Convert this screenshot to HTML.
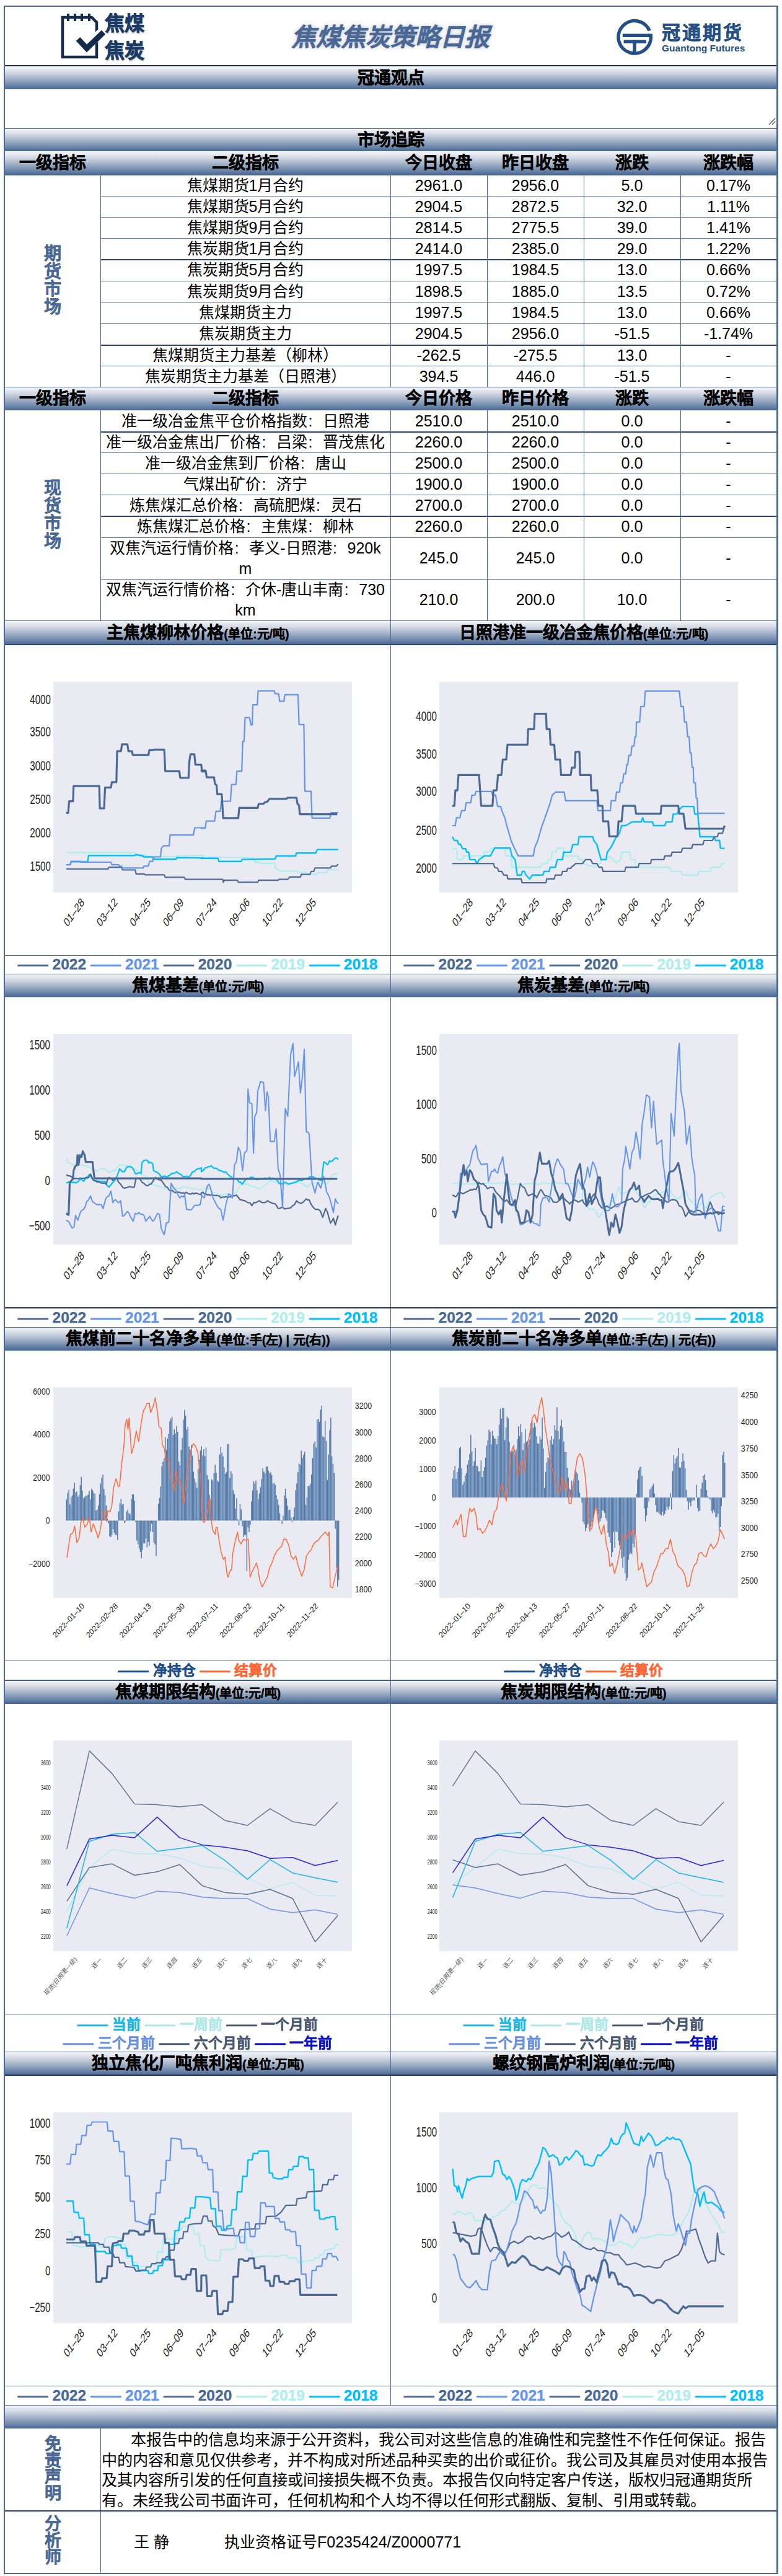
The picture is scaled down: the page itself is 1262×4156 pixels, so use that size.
<!DOCTYPE html>
<html lang="zh-CN"><head><meta charset="utf-8"><title>焦煤焦炭策略日报</title>
<style>
html,body{margin:0;padding:0;background:#fff;}
body{width:1262px;height:4156px;position:relative;overflow:hidden;font-family:'Liberation Sans',sans-serif;color:#000;}
div{box-sizing:border-box;}
.c{text-align:center;white-space:nowrap;}
</style></head><body>
<svg style="position:absolute;left:90px;top:15px" width="90" height="85" viewBox="90 15 90 85">
<path d="M101 28 H148 L156 36 V92 H101 Z" fill="none" stroke="#132a4a" stroke-width="4.5"/>
<g stroke="#132a4a" stroke-width="4"><line x1="110" y1="22" x2="110" y2="34"/><line x1="121" y1="22" x2="121" y2="34"/><line x1="132" y1="22" x2="132" y2="34"/><line x1="144" y1="22" x2="144" y2="34"/></g>
<path d="M126 60 L140 74 L166 50" fill="none" stroke="#fff" stroke-width="14"/>
<path d="M126 63 L140 78 L167 52" fill="none" stroke="#132a4a" stroke-width="9"/>
</svg><div style="position:absolute;left:169px;top:20px;width:80px;height:36px;line-height:36px;font-weight:bold;-webkit-text-stroke:0.9px currentColor;font-size:32px;color:#1b3a66;text-shadow:1px 2px 2px rgba(0,0,0,0.3);letter-spacing:0px;">焦煤</div><div style="position:absolute;left:169px;top:64px;width:80px;height:36px;line-height:36px;font-weight:bold;-webkit-text-stroke:0.9px currentColor;font-size:32px;color:#1b3a66;text-shadow:1px 2px 2px rgba(0,0,0,0.3);letter-spacing:0px;">焦炭</div><div style="position:absolute;left:330px;top:36px;width:600px;height:48px;line-height:48px;text-align:center;font-weight:bold;-webkit-text-stroke:0.35px currentColor;font-style:italic;font-size:40px;color:#4a6896;text-shadow:0 0 6px rgba(120,130,150,0.55);">焦煤焦炭策略日报</div><svg style="position:absolute;left:990px;top:25px" width="70" height="70" viewBox="990 25 70 70">
<path d="M1048.3 49.5 A26.25 26.25 0 1 0 1050.3 57.3" fill="none" stroke="#234f86" stroke-width="5.5"/>
<rect x="1004.8" y="54.5" width="48" height="5.5" fill="#234f86"/>
<rect x="1006.6" y="64.4" width="36.2" height="5.4" fill="#234f86"/>
<rect x="1021.3" y="69" width="5.4" height="16" fill="#234f86"/>
</svg><div style="position:absolute;left:1068px;top:36px;width:150px;height:34px;line-height:34px;font-weight:bold;-webkit-text-stroke:0.35px currentColor;font-size:30px;color:#234f86;letter-spacing:3px;">冠通期货</div><div style="position:absolute;left:1068px;top:68px;width:140px;height:20px;line-height:20px;font-weight:bold;font-size:15.5px;color:#234f86;">Guantong Futures</div><div style="position:absolute;left:8px;top:105px;width:1245px;height:2px;background:#1e3352"></div><div style="position:absolute;left:8px;top:108px;width:1245px;height:36px;background:linear-gradient(to bottom,#f3f4f7 0%,#d3d9e3 25%,#a7b5ca 50%,#7890b0 75%,#4a6896 100%)"></div><div style="position:absolute;left:8px;top:108px;width:1245px;height:36px;line-height:36px;text-align:center;font-weight:bold;-webkit-text-stroke:0.35px currentColor;font-size:27px;">冠通观点</div><svg style="position:absolute;left:1238px;top:188px" width="16" height="16"><g stroke="#555" stroke-width="1.3"><line x1="3" y1="13" x2="13" y2="3"/><line x1="8" y1="13" x2="13" y2="8"/></g></svg><div style="position:absolute;left:8px;top:207px;width:1245px;height:1px;background:#4a6a9a"></div><div style="position:absolute;left:8px;top:208px;width:1245px;height:36px;background:linear-gradient(to bottom,#f3f4f7 0%,#d3d9e3 25%,#a7b5ca 50%,#7890b0 75%,#4a6896 100%)"></div><div style="position:absolute;left:8px;top:208px;width:1245px;height:36px;line-height:36px;text-align:center;font-weight:bold;-webkit-text-stroke:0.35px currentColor;font-size:27px;">市场追踪</div><div style="position:absolute;left:8px;top:245px;width:1245px;height:37px;background:linear-gradient(to bottom,#f3f4f7 0%,#d3d9e3 25%,#a7b5ca 50%,#7890b0 75%,#4a6896 100%)"></div><div style="position:absolute;left:8px;top:245px;width:154px;height:37px;line-height:37px;text-align:center;font-weight:bold;-webkit-text-stroke:0.35px currentColor;font-size:27px;white-space:nowrap;">一级指标</div><div style="position:absolute;left:162px;top:245px;width:468px;height:37px;line-height:37px;text-align:center;font-weight:bold;-webkit-text-stroke:0.35px currentColor;font-size:27px;white-space:nowrap;">二级指标</div><div style="position:absolute;left:630px;top:245px;width:156px;height:37px;line-height:37px;text-align:center;font-weight:bold;-webkit-text-stroke:0.35px currentColor;font-size:27px;white-space:nowrap;">今日收盘</div><div style="position:absolute;left:786px;top:245px;width:156px;height:37px;line-height:37px;text-align:center;font-weight:bold;-webkit-text-stroke:0.35px currentColor;font-size:27px;white-space:nowrap;">昨日收盘</div><div style="position:absolute;left:942px;top:245px;width:156px;height:37px;line-height:37px;text-align:center;font-weight:bold;-webkit-text-stroke:0.35px currentColor;font-size:27px;white-space:nowrap;">涨跌</div><div style="position:absolute;left:1098px;top:245px;width:155px;height:37px;line-height:37px;text-align:center;font-weight:bold;-webkit-text-stroke:0.35px currentColor;font-size:27px;white-space:nowrap;">涨跌幅</div><div style="position:absolute;left:162px;top:282px;width:468px;height:34px;line-height:34px;text-align:center;font-size:25px;white-space:nowrap;">焦煤期货1月合约</div><div style="position:absolute;left:630px;top:282px;width:156px;height:34px;line-height:34px;text-align:center;font-size:25px;white-space:nowrap;">2961.0</div><div style="position:absolute;left:786px;top:282px;width:156px;height:34px;line-height:34px;text-align:center;font-size:25px;white-space:nowrap;">2956.0</div><div style="position:absolute;left:942px;top:282px;width:156px;height:34px;line-height:34px;text-align:center;font-size:25px;white-space:nowrap;">5.0</div><div style="position:absolute;left:1098px;top:282px;width:155px;height:34px;line-height:34px;text-align:center;font-size:25px;white-space:nowrap;">0.17%</div><div style="position:absolute;left:162px;top:316px;width:468px;height:34px;line-height:34px;text-align:center;font-size:25px;white-space:nowrap;">焦煤期货5月合约</div><div style="position:absolute;left:630px;top:316px;width:156px;height:34px;line-height:34px;text-align:center;font-size:25px;white-space:nowrap;">2904.5</div><div style="position:absolute;left:786px;top:316px;width:156px;height:34px;line-height:34px;text-align:center;font-size:25px;white-space:nowrap;">2872.5</div><div style="position:absolute;left:942px;top:316px;width:156px;height:34px;line-height:34px;text-align:center;font-size:25px;white-space:nowrap;">32.0</div><div style="position:absolute;left:1098px;top:316px;width:155px;height:34px;line-height:34px;text-align:center;font-size:25px;white-space:nowrap;">1.11%</div><div style="position:absolute;left:162px;top:350px;width:468px;height:34px;line-height:34px;text-align:center;font-size:25px;white-space:nowrap;">焦煤期货9月合约</div><div style="position:absolute;left:630px;top:350px;width:156px;height:34px;line-height:34px;text-align:center;font-size:25px;white-space:nowrap;">2814.5</div><div style="position:absolute;left:786px;top:350px;width:156px;height:34px;line-height:34px;text-align:center;font-size:25px;white-space:nowrap;">2775.5</div><div style="position:absolute;left:942px;top:350px;width:156px;height:34px;line-height:34px;text-align:center;font-size:25px;white-space:nowrap;">39.0</div><div style="position:absolute;left:1098px;top:350px;width:155px;height:34px;line-height:34px;text-align:center;font-size:25px;white-space:nowrap;">1.41%</div><div style="position:absolute;left:162px;top:384px;width:468px;height:34px;line-height:34px;text-align:center;font-size:25px;white-space:nowrap;">焦炭期货1月合约</div><div style="position:absolute;left:630px;top:384px;width:156px;height:34px;line-height:34px;text-align:center;font-size:25px;white-space:nowrap;">2414.0</div><div style="position:absolute;left:786px;top:384px;width:156px;height:34px;line-height:34px;text-align:center;font-size:25px;white-space:nowrap;">2385.0</div><div style="position:absolute;left:942px;top:384px;width:156px;height:34px;line-height:34px;text-align:center;font-size:25px;white-space:nowrap;">29.0</div><div style="position:absolute;left:1098px;top:384px;width:155px;height:34px;line-height:34px;text-align:center;font-size:25px;white-space:nowrap;">1.22%</div><div style="position:absolute;left:162px;top:418px;width:468px;height:35px;line-height:35px;text-align:center;font-size:25px;white-space:nowrap;">焦炭期货5月合约</div><div style="position:absolute;left:630px;top:418px;width:156px;height:35px;line-height:35px;text-align:center;font-size:25px;white-space:nowrap;">1997.5</div><div style="position:absolute;left:786px;top:418px;width:156px;height:35px;line-height:35px;text-align:center;font-size:25px;white-space:nowrap;">1984.5</div><div style="position:absolute;left:942px;top:418px;width:156px;height:35px;line-height:35px;text-align:center;font-size:25px;white-space:nowrap;">13.0</div><div style="position:absolute;left:1098px;top:418px;width:155px;height:35px;line-height:35px;text-align:center;font-size:25px;white-space:nowrap;">0.66%</div><div style="position:absolute;left:162px;top:453px;width:468px;height:34px;line-height:34px;text-align:center;font-size:25px;white-space:nowrap;">焦炭期货9月合约</div><div style="position:absolute;left:630px;top:453px;width:156px;height:34px;line-height:34px;text-align:center;font-size:25px;white-space:nowrap;">1898.5</div><div style="position:absolute;left:786px;top:453px;width:156px;height:34px;line-height:34px;text-align:center;font-size:25px;white-space:nowrap;">1885.0</div><div style="position:absolute;left:942px;top:453px;width:156px;height:34px;line-height:34px;text-align:center;font-size:25px;white-space:nowrap;">13.5</div><div style="position:absolute;left:1098px;top:453px;width:155px;height:34px;line-height:34px;text-align:center;font-size:25px;white-space:nowrap;">0.72%</div><div style="position:absolute;left:162px;top:487px;width:468px;height:34px;line-height:34px;text-align:center;font-size:25px;white-space:nowrap;">焦煤期货主力</div><div style="position:absolute;left:630px;top:487px;width:156px;height:34px;line-height:34px;text-align:center;font-size:25px;white-space:nowrap;">1997.5</div><div style="position:absolute;left:786px;top:487px;width:156px;height:34px;line-height:34px;text-align:center;font-size:25px;white-space:nowrap;">1984.5</div><div style="position:absolute;left:942px;top:487px;width:156px;height:34px;line-height:34px;text-align:center;font-size:25px;white-space:nowrap;">13.0</div><div style="position:absolute;left:1098px;top:487px;width:155px;height:34px;line-height:34px;text-align:center;font-size:25px;white-space:nowrap;">0.66%</div><div style="position:absolute;left:162px;top:521px;width:468px;height:35px;line-height:35px;text-align:center;font-size:25px;white-space:nowrap;">焦炭期货主力</div><div style="position:absolute;left:630px;top:521px;width:156px;height:35px;line-height:35px;text-align:center;font-size:25px;white-space:nowrap;">2904.5</div><div style="position:absolute;left:786px;top:521px;width:156px;height:35px;line-height:35px;text-align:center;font-size:25px;white-space:nowrap;">2956.0</div><div style="position:absolute;left:942px;top:521px;width:156px;height:35px;line-height:35px;text-align:center;font-size:25px;white-space:nowrap;">-51.5</div><div style="position:absolute;left:1098px;top:521px;width:155px;height:35px;line-height:35px;text-align:center;font-size:25px;white-space:nowrap;">-1.74%</div><div style="position:absolute;left:162px;top:556px;width:468px;height:34px;line-height:34px;text-align:center;font-size:25px;white-space:nowrap;">焦煤期货主力基差（柳林）</div><div style="position:absolute;left:630px;top:556px;width:156px;height:34px;line-height:34px;text-align:center;font-size:25px;white-space:nowrap;">-262.5</div><div style="position:absolute;left:786px;top:556px;width:156px;height:34px;line-height:34px;text-align:center;font-size:25px;white-space:nowrap;">-275.5</div><div style="position:absolute;left:942px;top:556px;width:156px;height:34px;line-height:34px;text-align:center;font-size:25px;white-space:nowrap;">13.0</div><div style="position:absolute;left:1098px;top:556px;width:155px;height:34px;line-height:34px;text-align:center;font-size:25px;white-space:nowrap;">-</div><div style="position:absolute;left:162px;top:590px;width:468px;height:34px;line-height:34px;text-align:center;font-size:25px;white-space:nowrap;">焦炭期货主力基差（日照港）</div><div style="position:absolute;left:630px;top:590px;width:156px;height:34px;line-height:34px;text-align:center;font-size:25px;white-space:nowrap;">394.5</div><div style="position:absolute;left:786px;top:590px;width:156px;height:34px;line-height:34px;text-align:center;font-size:25px;white-space:nowrap;">446.0</div><div style="position:absolute;left:942px;top:590px;width:156px;height:34px;line-height:34px;text-align:center;font-size:25px;white-space:nowrap;">-51.5</div><div style="position:absolute;left:1098px;top:590px;width:155px;height:34px;line-height:34px;text-align:center;font-size:25px;white-space:nowrap;">-</div><div style="position:absolute;left:162px;top:316px;width:1091px;height:1px;background:#4a6a9a"></div><div style="position:absolute;left:162px;top:350px;width:1091px;height:1px;background:#4a6a9a"></div><div style="position:absolute;left:162px;top:384px;width:1091px;height:1px;background:#4a6a9a"></div><div style="position:absolute;left:162px;top:418px;width:1091px;height:2px;background:#2a4670"></div><div style="position:absolute;left:162px;top:453px;width:1091px;height:1px;background:#4a6a9a"></div><div style="position:absolute;left:162px;top:487px;width:1091px;height:1px;background:#4a6a9a"></div><div style="position:absolute;left:162px;top:521px;width:1091px;height:1px;background:#4a6a9a"></div><div style="position:absolute;left:162px;top:556px;width:1091px;height:2px;background:#2a4670"></div><div style="position:absolute;left:162px;top:590px;width:1091px;height:1px;background:#4a6a9a"></div><div style="position:absolute;left:8px;top:282px;width:1245px;height:1px;background:#3d5a85"></div><div style="position:absolute;left:162px;top:282px;width:1px;height:342px;background:#4a6a9a"></div><div style="position:absolute;left:630px;top:282px;width:1px;height:342px;background:#4a6a9a"></div><div style="position:absolute;left:786px;top:282px;width:1px;height:342px;background:#4a6a9a"></div><div style="position:absolute;left:942px;top:282px;width:1px;height:342px;background:#4a6a9a"></div><div style="position:absolute;left:1098px;top:282px;width:1px;height:342px;background:#4a6a9a"></div><div style="position:absolute;left:8px;top:282px;width:154px;height:342px;line-height:342px;text-align:center;font-weight:bold;-webkit-text-stroke:0.35px currentColor;font-size:28px;color:#4a6896;line-height:28.5px;padding-top:114px;">期<br>货<br>市<br>场</div><div style="position:absolute;left:8px;top:624px;width:1245px;height:1px;background:#4a6a9a"></div><div style="position:absolute;left:8px;top:625px;width:1245px;height:37px;background:linear-gradient(to bottom,#f3f4f7 0%,#d3d9e3 25%,#a7b5ca 50%,#7890b0 75%,#4a6896 100%)"></div><div style="position:absolute;left:8px;top:625px;width:154px;height:37px;line-height:37px;text-align:center;font-weight:bold;-webkit-text-stroke:0.35px currentColor;font-size:27px;white-space:nowrap;">一级指标</div><div style="position:absolute;left:162px;top:625px;width:468px;height:37px;line-height:37px;text-align:center;font-weight:bold;-webkit-text-stroke:0.35px currentColor;font-size:27px;white-space:nowrap;">二级指标</div><div style="position:absolute;left:630px;top:625px;width:156px;height:37px;line-height:37px;text-align:center;font-weight:bold;-webkit-text-stroke:0.35px currentColor;font-size:27px;white-space:nowrap;">今日价格</div><div style="position:absolute;left:786px;top:625px;width:156px;height:37px;line-height:37px;text-align:center;font-weight:bold;-webkit-text-stroke:0.35px currentColor;font-size:27px;white-space:nowrap;">昨日价格</div><div style="position:absolute;left:942px;top:625px;width:156px;height:37px;line-height:37px;text-align:center;font-weight:bold;-webkit-text-stroke:0.35px currentColor;font-size:27px;white-space:nowrap;">涨跌</div><div style="position:absolute;left:1098px;top:625px;width:155px;height:37px;line-height:37px;text-align:center;font-weight:bold;-webkit-text-stroke:0.35px currentColor;font-size:27px;white-space:nowrap;">涨跌幅</div><div style="position:absolute;left:162px;top:662px;width:468px;height:34px;line-height:34px;text-align:center;font-size:25px;white-space:nowrap;">准一级冶金焦平仓价格指数<span style="display:inline-block;width:1em;text-align:left;padding-left:0.06em;box-sizing:border-box">:</span>日照港</div><div style="position:absolute;left:630px;top:662px;width:156px;height:34px;line-height:34px;text-align:center;font-size:25px;white-space:nowrap;">2510.0</div><div style="position:absolute;left:786px;top:662px;width:156px;height:34px;line-height:34px;text-align:center;font-size:25px;white-space:nowrap;">2510.0</div><div style="position:absolute;left:942px;top:662px;width:156px;height:34px;line-height:34px;text-align:center;font-size:25px;white-space:nowrap;">0.0</div><div style="position:absolute;left:1098px;top:662px;width:155px;height:34px;line-height:34px;text-align:center;font-size:25px;white-space:nowrap;">-</div><div style="position:absolute;left:162px;top:696px;width:468px;height:34px;line-height:34px;text-align:center;font-size:25px;white-space:nowrap;">准一级冶金焦出厂价格<span style="display:inline-block;width:1em;text-align:left;padding-left:0.06em;box-sizing:border-box">:</span>吕梁<span style="display:inline-block;width:1em;text-align:left;padding-left:0.06em;box-sizing:border-box">:</span>晋茂焦化</div><div style="position:absolute;left:630px;top:696px;width:156px;height:34px;line-height:34px;text-align:center;font-size:25px;white-space:nowrap;">2260.0</div><div style="position:absolute;left:786px;top:696px;width:156px;height:34px;line-height:34px;text-align:center;font-size:25px;white-space:nowrap;">2260.0</div><div style="position:absolute;left:942px;top:696px;width:156px;height:34px;line-height:34px;text-align:center;font-size:25px;white-space:nowrap;">0.0</div><div style="position:absolute;left:1098px;top:696px;width:155px;height:34px;line-height:34px;text-align:center;font-size:25px;white-space:nowrap;">-</div><div style="position:absolute;left:162px;top:730px;width:468px;height:34px;line-height:34px;text-align:center;font-size:25px;white-space:nowrap;">准一级冶金焦到厂价格<span style="display:inline-block;width:1em;text-align:left;padding-left:0.06em;box-sizing:border-box">:</span>唐山</div><div style="position:absolute;left:630px;top:730px;width:156px;height:34px;line-height:34px;text-align:center;font-size:25px;white-space:nowrap;">2500.0</div><div style="position:absolute;left:786px;top:730px;width:156px;height:34px;line-height:34px;text-align:center;font-size:25px;white-space:nowrap;">2500.0</div><div style="position:absolute;left:942px;top:730px;width:156px;height:34px;line-height:34px;text-align:center;font-size:25px;white-space:nowrap;">0.0</div><div style="position:absolute;left:1098px;top:730px;width:155px;height:34px;line-height:34px;text-align:center;font-size:25px;white-space:nowrap;">-</div><div style="position:absolute;left:162px;top:764px;width:468px;height:34px;line-height:34px;text-align:center;font-size:25px;white-space:nowrap;">气煤出矿价<span style="display:inline-block;width:1em;text-align:left;padding-left:0.06em;box-sizing:border-box">:</span>济宁</div><div style="position:absolute;left:630px;top:764px;width:156px;height:34px;line-height:34px;text-align:center;font-size:25px;white-space:nowrap;">1900.0</div><div style="position:absolute;left:786px;top:764px;width:156px;height:34px;line-height:34px;text-align:center;font-size:25px;white-space:nowrap;">1900.0</div><div style="position:absolute;left:942px;top:764px;width:156px;height:34px;line-height:34px;text-align:center;font-size:25px;white-space:nowrap;">0.0</div><div style="position:absolute;left:1098px;top:764px;width:155px;height:34px;line-height:34px;text-align:center;font-size:25px;white-space:nowrap;">-</div><div style="position:absolute;left:162px;top:798px;width:468px;height:34px;line-height:34px;text-align:center;font-size:25px;white-space:nowrap;">炼焦煤汇总价格<span style="display:inline-block;width:1em;text-align:left;padding-left:0.06em;box-sizing:border-box">:</span>高硫肥煤<span style="display:inline-block;width:1em;text-align:left;padding-left:0.06em;box-sizing:border-box">:</span>灵石</div><div style="position:absolute;left:630px;top:798px;width:156px;height:34px;line-height:34px;text-align:center;font-size:25px;white-space:nowrap;">2700.0</div><div style="position:absolute;left:786px;top:798px;width:156px;height:34px;line-height:34px;text-align:center;font-size:25px;white-space:nowrap;">2700.0</div><div style="position:absolute;left:942px;top:798px;width:156px;height:34px;line-height:34px;text-align:center;font-size:25px;white-space:nowrap;">0.0</div><div style="position:absolute;left:1098px;top:798px;width:155px;height:34px;line-height:34px;text-align:center;font-size:25px;white-space:nowrap;">-</div><div style="position:absolute;left:162px;top:832px;width:468px;height:35px;line-height:35px;text-align:center;font-size:25px;white-space:nowrap;">炼焦煤汇总价格<span style="display:inline-block;width:1em;text-align:left;padding-left:0.06em;box-sizing:border-box">:</span>主焦煤<span style="display:inline-block;width:1em;text-align:left;padding-left:0.06em;box-sizing:border-box">:</span>柳林</div><div style="position:absolute;left:630px;top:832px;width:156px;height:35px;line-height:35px;text-align:center;font-size:25px;white-space:nowrap;">2260.0</div><div style="position:absolute;left:786px;top:832px;width:156px;height:35px;line-height:35px;text-align:center;font-size:25px;white-space:nowrap;">2260.0</div><div style="position:absolute;left:942px;top:832px;width:156px;height:35px;line-height:35px;text-align:center;font-size:25px;white-space:nowrap;">0.0</div><div style="position:absolute;left:1098px;top:832px;width:155px;height:35px;line-height:35px;text-align:center;font-size:25px;white-space:nowrap;">-</div><div style="position:absolute;left:162px;top:867px;width:468px;height:67px;text-align:center;font-size:25px;line-height:33px;padding-top:1px;">双焦汽运行情价格<span style="display:inline-block;width:1em;text-align:left;padding-left:0.06em;box-sizing:border-box">:</span>孝义-日照港<span style="display:inline-block;width:1em;text-align:left;padding-left:0.06em;box-sizing:border-box">:</span>920k<br>m</div><div style="position:absolute;left:630px;top:867px;width:156px;height:67px;line-height:67px;text-align:center;font-size:25px;white-space:nowrap;">245.0</div><div style="position:absolute;left:786px;top:867px;width:156px;height:67px;line-height:67px;text-align:center;font-size:25px;white-space:nowrap;">245.0</div><div style="position:absolute;left:942px;top:867px;width:156px;height:67px;line-height:67px;text-align:center;font-size:25px;white-space:nowrap;">0.0</div><div style="position:absolute;left:1098px;top:867px;width:155px;height:67px;line-height:67px;text-align:center;font-size:25px;white-space:nowrap;">-</div><div style="position:absolute;left:162px;top:934px;width:468px;height:67px;text-align:center;font-size:25px;line-height:33px;padding-top:1px;">双焦汽运行情价格<span style="display:inline-block;width:1em;text-align:left;padding-left:0.06em;box-sizing:border-box">:</span>介休-唐山丰南<span style="display:inline-block;width:1em;text-align:left;padding-left:0.06em;box-sizing:border-box">:</span>730<br>km</div><div style="position:absolute;left:630px;top:934px;width:156px;height:67px;line-height:67px;text-align:center;font-size:25px;white-space:nowrap;">210.0</div><div style="position:absolute;left:786px;top:934px;width:156px;height:67px;line-height:67px;text-align:center;font-size:25px;white-space:nowrap;">200.0</div><div style="position:absolute;left:942px;top:934px;width:156px;height:67px;line-height:67px;text-align:center;font-size:25px;white-space:nowrap;">10.0</div><div style="position:absolute;left:1098px;top:934px;width:155px;height:67px;line-height:67px;text-align:center;font-size:25px;white-space:nowrap;">-</div><div style="position:absolute;left:162px;top:696px;width:1091px;height:2px;background:#2a4670"></div><div style="position:absolute;left:162px;top:730px;width:1091px;height:1px;background:#4a6a9a"></div><div style="position:absolute;left:162px;top:764px;width:1091px;height:1px;background:#4a6a9a"></div><div style="position:absolute;left:162px;top:798px;width:1091px;height:1px;background:#4a6a9a"></div><div style="position:absolute;left:162px;top:832px;width:1091px;height:2px;background:#2a4670"></div><div style="position:absolute;left:162px;top:867px;width:1091px;height:1px;background:#4a6a9a"></div><div style="position:absolute;left:162px;top:934px;width:1091px;height:1px;background:#4a6a9a"></div><div style="position:absolute;left:162px;top:662px;width:1px;height:339px;background:#4a6a9a"></div><div style="position:absolute;left:630px;top:662px;width:1px;height:339px;background:#4a6a9a"></div><div style="position:absolute;left:786px;top:662px;width:1px;height:339px;background:#4a6a9a"></div><div style="position:absolute;left:942px;top:662px;width:1px;height:339px;background:#4a6a9a"></div><div style="position:absolute;left:1098px;top:662px;width:1px;height:339px;background:#4a6a9a"></div><div style="position:absolute;left:8px;top:662px;width:154px;height:339px;line-height:339px;text-align:center;font-weight:bold;-webkit-text-stroke:0.35px currentColor;font-size:28px;color:#4a6896;line-height:28.5px;padding-top:112px;">现<br>货<br>市<br>场</div><div style="position:absolute;left:8px;top:1001px;width:1245px;height:1px;background:#4a6a9a"></div><div style="position:absolute;left:8px;top:1002px;width:1245px;height:38px;background:linear-gradient(to bottom,#f3f4f7 0%,#d3d9e3 25%,#a7b5ca 50%,#7890b0 75%,#4a6896 100%)"></div><div style="position:absolute;left:8px;top:1002px;width:623px;height:38px;line-height:38px;text-align:center;font-weight:bold;-webkit-text-stroke:0.35px currentColor;font-size:27px;white-space:nowrap;">主焦煤柳林价格<span style="font-size:20px">(单位:元/吨)</span></div><div style="position:absolute;left:631px;top:1002px;width:622px;height:38px;line-height:38px;text-align:center;font-weight:bold;-webkit-text-stroke:0.35px currentColor;font-size:27px;white-space:nowrap;">日照港准一级冶金焦价格<span style="font-size:20px">(单位:元/吨)</span></div><div style="position:absolute;left:8px;top:1040px;width:1245px;height:1px;background:#4a6a9a"></div><div style="position:absolute;left:8px;top:1541px;width:1245px;height:1px;background:#4a6a9a"></div><div style="position:absolute;left:630px;top:1001px;width:1px;height:570px;background:#4a6a9a"></div><div style="position:absolute;left:86px;top:1100px;width:482px;height:340px;background:#eaeaf2"></div><div style="position:absolute;left:709px;top:1100px;width:482px;height:340px;background:#eaeaf2"></div><div style="position:absolute;left:8px;top:1571px;width:1245px;height:1px;background:#4a6a9a"></div><div style="position:absolute;left:8px;top:1572px;width:1245px;height:36px;background:linear-gradient(to bottom,#f3f4f7 0%,#d3d9e3 25%,#a7b5ca 50%,#7890b0 75%,#4a6896 100%)"></div><div style="position:absolute;left:8px;top:1572px;width:623px;height:36px;line-height:36px;text-align:center;font-weight:bold;-webkit-text-stroke:0.35px currentColor;font-size:27px;white-space:nowrap;">焦煤基差<span style="font-size:20px">(单位:元/吨)</span></div><div style="position:absolute;left:631px;top:1572px;width:622px;height:36px;line-height:36px;text-align:center;font-weight:bold;-webkit-text-stroke:0.35px currentColor;font-size:27px;white-space:nowrap;">焦炭基差<span style="font-size:20px">(单位:元/吨)</span></div><div style="position:absolute;left:8px;top:1608px;width:1245px;height:1px;background:#4a6a9a"></div><div style="position:absolute;left:8px;top:2110px;width:1245px;height:1px;background:#4a6a9a"></div><div style="position:absolute;left:630px;top:1571px;width:1px;height:570px;background:#4a6a9a"></div><div style="position:absolute;left:86px;top:1668px;width:482px;height:340px;background:#eaeaf2"></div><div style="position:absolute;left:709px;top:1668px;width:482px;height:340px;background:#eaeaf2"></div><div style="position:absolute;left:8px;top:2141px;width:1245px;height:1px;background:#4a6a9a"></div><div style="position:absolute;left:8px;top:2142px;width:1245px;height:36px;background:linear-gradient(to bottom,#f3f4f7 0%,#d3d9e3 25%,#a7b5ca 50%,#7890b0 75%,#4a6896 100%)"></div><div style="position:absolute;left:8px;top:2142px;width:623px;height:36px;line-height:36px;text-align:center;font-weight:bold;-webkit-text-stroke:0.35px currentColor;font-size:27px;white-space:nowrap;">焦煤前二十名净多单<span style="font-size:20px">(单位:手(左) | 元(右))</span></div><div style="position:absolute;left:631px;top:2142px;width:622px;height:36px;line-height:36px;text-align:center;font-weight:bold;-webkit-text-stroke:0.35px currentColor;font-size:27px;white-space:nowrap;">焦炭前二十名净多单<span style="font-size:20px">(单位:手(左) | 元(右))</span></div><div style="position:absolute;left:8px;top:2178px;width:1245px;height:1px;background:#4a6a9a"></div><div style="position:absolute;left:8px;top:2679px;width:1245px;height:1px;background:#4a6a9a"></div><div style="position:absolute;left:630px;top:2141px;width:1px;height:570px;background:#4a6a9a"></div><div style="position:absolute;left:86px;top:2238px;width:482px;height:340px;background:#eaeaf2"></div><div style="position:absolute;left:709px;top:2238px;width:482px;height:340px;background:#eaeaf2"></div><div style="position:absolute;left:8px;top:2711px;width:1245px;height:1px;background:#4a6a9a"></div><div style="position:absolute;left:8px;top:2712px;width:1245px;height:36px;background:linear-gradient(to bottom,#f3f4f7 0%,#d3d9e3 25%,#a7b5ca 50%,#7890b0 75%,#4a6896 100%)"></div><div style="position:absolute;left:8px;top:2712px;width:623px;height:36px;line-height:36px;text-align:center;font-weight:bold;-webkit-text-stroke:0.35px currentColor;font-size:27px;white-space:nowrap;">焦煤期限结构<span style="font-size:20px">(单位:元/吨)</span></div><div style="position:absolute;left:631px;top:2712px;width:622px;height:36px;line-height:36px;text-align:center;font-weight:bold;-webkit-text-stroke:0.35px currentColor;font-size:27px;white-space:nowrap;">焦炭期限结构<span style="font-size:20px">(单位:元/吨)</span></div><div style="position:absolute;left:8px;top:2748px;width:1245px;height:1px;background:#4a6a9a"></div><div style="position:absolute;left:8px;top:3249px;width:1245px;height:1px;background:#4a6a9a"></div><div style="position:absolute;left:630px;top:2711px;width:1px;height:599px;background:#4a6a9a"></div><div style="position:absolute;left:86px;top:2808px;width:482px;height:340px;background:#eaeaf2"></div><div style="position:absolute;left:709px;top:2808px;width:482px;height:340px;background:#eaeaf2"></div><div style="position:absolute;left:8px;top:3310px;width:1245px;height:1px;background:#4a6a9a"></div><div style="position:absolute;left:8px;top:3311px;width:1245px;height:37px;background:linear-gradient(to bottom,#f3f4f7 0%,#d3d9e3 25%,#a7b5ca 50%,#7890b0 75%,#4a6896 100%)"></div><div style="position:absolute;left:8px;top:3311px;width:623px;height:37px;line-height:37px;text-align:center;font-weight:bold;-webkit-text-stroke:0.35px currentColor;font-size:27px;white-space:nowrap;">独立焦化厂吨焦利润<span style="font-size:20px">(单位:万吨)</span></div><div style="position:absolute;left:631px;top:3311px;width:622px;height:37px;line-height:37px;text-align:center;font-weight:bold;-webkit-text-stroke:0.35px currentColor;font-size:27px;white-space:nowrap;">螺纹钢高炉利润<span style="font-size:20px">(单位:元/吨)</span></div><div style="position:absolute;left:8px;top:3348px;width:1245px;height:1px;background:#4a6a9a"></div><div style="position:absolute;left:8px;top:3849px;width:1245px;height:1px;background:#4a6a9a"></div><div style="position:absolute;left:630px;top:3310px;width:1px;height:570px;background:#4a6a9a"></div><div style="position:absolute;left:86px;top:3408px;width:482px;height:340px;background:#eaeaf2"></div><div style="position:absolute;left:709px;top:3408px;width:482px;height:340px;background:#eaeaf2"></div><div style="position:absolute;left:8px;top:3880px;width:1245px;height:1px;background:#4a6a9a"></div><div style="position:absolute;left:8px;top:1541px;width:622px;height:30px;line-height:30px;text-align:center;font-weight:bold;-webkit-text-stroke:0.35px currentColor;font-size:24.6px;white-space:nowrap;"><span style="color:#4a6a96">—— 2022</span> <span style="color:#6495ed">—— 2021</span> <span style="color:#4a6a96">—— 2020</span> <span style="color:#aeeeee">—— 2019</span> <span style="color:#00bfff">—— 2018</span></div><div style="position:absolute;left:631px;top:1541px;width:622px;height:30px;line-height:30px;text-align:center;font-weight:bold;-webkit-text-stroke:0.35px currentColor;font-size:24.6px;white-space:nowrap;"><span style="color:#4a6a96">—— 2022</span> <span style="color:#6495ed">—— 2021</span> <span style="color:#4a6a96">—— 2020</span> <span style="color:#aeeeee">—— 2019</span> <span style="color:#00bfff">—— 2018</span></div><div style="position:absolute;left:8px;top:2110px;width:622px;height:31px;line-height:31px;text-align:center;font-weight:bold;-webkit-text-stroke:0.35px currentColor;font-size:24.6px;white-space:nowrap;"><span style="color:#4a6a96">—— 2022</span> <span style="color:#6495ed">—— 2021</span> <span style="color:#4a6a96">—— 2020</span> <span style="color:#aeeeee">—— 2019</span> <span style="color:#00bfff">—— 2018</span></div><div style="position:absolute;left:631px;top:2110px;width:622px;height:31px;line-height:31px;text-align:center;font-weight:bold;-webkit-text-stroke:0.35px currentColor;font-size:24.6px;white-space:nowrap;"><span style="color:#4a6a96">—— 2022</span> <span style="color:#6495ed">—— 2021</span> <span style="color:#4a6a96">—— 2020</span> <span style="color:#aeeeee">—— 2019</span> <span style="color:#00bfff">—— 2018</span></div><div style="position:absolute;left:8px;top:2679px;width:622px;height:32px;line-height:32px;text-align:center;font-weight:bold;-webkit-text-stroke:0.35px currentColor;font-size:24.6px;white-space:nowrap;"><span style="color:#1f4e8c">—— <span style="font-size:22.7px">净持仓</span></span> <span style="color:#ff6633">—— <span style="font-size:22.7px">结算价</span></span></div><div style="position:absolute;left:631px;top:2679px;width:622px;height:32px;line-height:32px;text-align:center;font-weight:bold;-webkit-text-stroke:0.35px currentColor;font-size:24.6px;white-space:nowrap;"><span style="color:#1f4e8c">—— <span style="font-size:22.7px">净持仓</span></span> <span style="color:#ff6633">—— <span style="font-size:22.7px">结算价</span></span></div><div style="position:absolute;left:8px;top:3250px;width:622px;height:32px;line-height:32px;text-align:center;font-weight:bold;-webkit-text-stroke:0.35px currentColor;font-size:24.6px;white-space:nowrap;"><span style="color:#1ab5e6">—— <span style="font-size:22.7px">当前</span></span> <span style="color:#aee8e8">—— <span style="font-size:22.7px">一周前</span></span> <span style="color:#4a5a70">—— <span style="font-size:22.7px">一个月前</span></span></div><div style="position:absolute;left:631px;top:3250px;width:622px;height:32px;line-height:32px;text-align:center;font-weight:bold;-webkit-text-stroke:0.35px currentColor;font-size:24.6px;white-space:nowrap;"><span style="color:#1ab5e6">—— <span style="font-size:22.7px">当前</span></span> <span style="color:#aee8e8">—— <span style="font-size:22.7px">一周前</span></span> <span style="color:#4a5a70">—— <span style="font-size:22.7px">一个月前</span></span></div><div style="position:absolute;left:8px;top:3281px;width:622px;height:30px;line-height:30px;text-align:center;font-weight:bold;-webkit-text-stroke:0.35px currentColor;font-size:24.6px;white-space:nowrap;"><span style="color:#6a8fe0">—— <span style="font-size:22.7px">三个月前</span></span> <span style="color:#4a5a70">—— <span style="font-size:22.7px">六个月前</span></span> <span style="color:#0a10c8">—— <span style="font-size:22.7px">一年前</span></span></div><div style="position:absolute;left:631px;top:3281px;width:622px;height:30px;line-height:30px;text-align:center;font-weight:bold;-webkit-text-stroke:0.35px currentColor;font-size:24.6px;white-space:nowrap;"><span style="color:#6a8fe0">—— <span style="font-size:22.7px">三个月前</span></span> <span style="color:#4a5a70">—— <span style="font-size:22.7px">六个月前</span></span> <span style="color:#0a10c8">—— <span style="font-size:22.7px">一年前</span></span></div><div style="position:absolute;left:8px;top:3849px;width:622px;height:31px;line-height:31px;text-align:center;font-weight:bold;-webkit-text-stroke:0.35px currentColor;font-size:24.6px;white-space:nowrap;"><span style="color:#4a6a96">—— 2022</span> <span style="color:#6495ed">—— 2021</span> <span style="color:#4a6a96">—— 2020</span> <span style="color:#aeeeee">—— 2019</span> <span style="color:#00bfff">—— 2018</span></div><div style="position:absolute;left:631px;top:3849px;width:622px;height:31px;line-height:31px;text-align:center;font-weight:bold;-webkit-text-stroke:0.35px currentColor;font-size:24.6px;white-space:nowrap;"><span style="color:#4a6a96">—— 2022</span> <span style="color:#6495ed">—— 2021</span> <span style="color:#4a6a96">—— 2020</span> <span style="color:#aeeeee">—— 2019</span> <span style="color:#00bfff">—— 2018</span></div><div style="position:absolute;left:8px;top:1038.5px;width:1245px;height:1.8px;background:#1f3554"></div><div style="position:absolute;left:8px;top:2109px;width:1245px;height:1.8px;background:#1f3554"></div><div style="position:absolute;left:8px;top:2709.5px;width:1245px;height:1.8px;background:#1f3554"></div><div style="position:absolute;left:8px;top:3346.8px;width:1245px;height:1.8px;background:#1f3554"></div><svg style="position:absolute;left:0;top:0" width="1262" height="4156" viewBox="0 0 1262 4156"><polyline points="106.9,1375.6 218.2,1375.6 219.7,1379.4 234.8,1379.4 236.3,1381.9 283.9,1381.9 285.5,1380.0 327.8,1380.0 330.0,1382.5 325.0,1382.5 409.6,1384.1 411.2,1390.4 422.1,1392.9 443.4,1392.9 445.0,1401.3 451.9,1405.4 478.5,1405.4 480.1,1407.6 494.2,1407.6 495.7,1410.7 511.4,1410.7 513.0,1407.6 527.1,1407.6 528.6,1403.5 545.9,1403.5" fill="none" stroke="#aeeeee" stroke-width="2.2" stroke-linejoin="round"/><polyline points="106.9,1395.1 113.2,1395.1 114.8,1390.4 141.4,1390.4 143.0,1380.3 216.6,1380.3 219.7,1378.8 230.7,1381.0 232.3,1382.5 246.3,1382.5 247.9,1386.3 283.9,1386.3 285.5,1383.5 327.8,1384.1 325.0,1384.7 351.6,1384.7 353.2,1389.7 389.2,1389.7 390.8,1386.6 444.1,1385.7 445.6,1381.0 477.0,1381.0 478.5,1376.3 509.8,1376.3 512.0,1370.6 545.9,1370.6" fill="none" stroke="#00bfff" stroke-width="2.4" stroke-linejoin="round"/><polyline points="106.9,1402.0 174.3,1402.0 175.9,1399.1 196.2,1399.1 197.8,1403.5 218.2,1403.5 219.7,1410.1 232.9,1410.1 234.4,1411.4 265.1,1411.4 266.7,1415.4 297.4,1415.4 299.0,1418.6 330.0,1418.6 325.0,1418.6 359.5,1418.6 360.4,1423.3 362.0,1420.1 383.0,1420.1 384.5,1423.3 415.9,1423.3 417.4,1420.1 448.8,1420.1 450.3,1418.6 464.4,1418.6 467.6,1414.8 484.8,1414.8 486.3,1410.7 500.4,1410.7 502.0,1406.0 506.1,1406.0 508.3,1400.4 533.3,1400.4 534.9,1397.3 542.7,1397.3 545.9,1394.4" fill="none" stroke="#4f6b93" stroke-width="2.2" stroke-linejoin="round"/><polyline points="106.9,1395.1 113.2,1395.1 114.8,1389.7 128.9,1389.7 130.4,1391.0 179.0,1391.0 180.6,1395.1 191.5,1395.1 193.1,1397.3 196.2,1397.3 197.8,1400.4 230.7,1400.4 232.3,1397.3 239.1,1397.3 241.6,1389.7 246.3,1389.7 247.9,1382.5 258.9,1382.5 260.4,1368.4 263.6,1364.7 273.0,1364.7 274.5,1347.1 312.1,1347.1 314.3,1335.5 330.0,1335.5 325.0,1336.2 331.3,1336.2 332.8,1324.6 346.3,1324.6 348.5,1308.9 355.4,1308.9 357.3,1292.6 372.0,1292.6 373.6,1265.7 380.8,1265.7 382.3,1244.1 390.2,1244.1 391.7,1196.1 393.9,1196.1 395.5,1157.9 402.7,1157.9 404.9,1169.5 407.1,1169.5 408.0,1137.2 415.2,1137.2 416.5,1114.7 442.5,1114.7 444.1,1119.4 449.7,1119.4 451.3,1131.3 458.2,1131.3 459.7,1120.9 481.0,1120.9 482.6,1168.9 490.4,1168.9 492.0,1276.6 502.0,1276.6 503.6,1319.9 532.4,1319.9 534.0,1311.1 545.9,1311.1" fill="none" stroke="#6495ed" stroke-width="2.2" stroke-linejoin="round"/><polyline points="106.9,1311.4 110.1,1311.4 111.6,1292.6 117.9,1292.6 118.8,1268.2 160.2,1268.2 161.1,1304.2 168.0,1304.2 169.6,1270.7 179.0,1270.7 180.6,1261.9 187.8,1261.9 189.0,1211.8 195.3,1211.8 196.8,1200.8 205.6,1200.8 207.2,1211.8 212.8,1211.8 214.4,1218.1 239.5,1218.1 241.0,1210.2 247.3,1210.2 248.5,1209.3 265.1,1209.3 266.7,1244.1 289.3,1244.1 290.8,1255.0 304.3,1255.0 305.6,1228.1 307.4,1216.8 313.7,1216.8 315.3,1233.7 324.7,1233.7 326.2,1244.7 330.0,1244.7 325.0,1243.1 331.9,1243.1 333.5,1254.1 345.4,1254.1 346.9,1265.0 349.4,1266.6 350.7,1281.3 357.9,1281.3 360.1,1319.9 384.5,1319.9 386.1,1303.3 415.9,1303.3 417.4,1297.0 425.3,1297.0 426.8,1294.8 431.5,1293.2 434.7,1288.9 462.2,1288.9 463.8,1287.0 478.5,1287.0 480.1,1296.4 482.6,1299.5 483.8,1313.6 544.3,1313.6" fill="none" stroke="#4a6a96" stroke-width="3.2" stroke-linejoin="round"/><text transform="translate(82,1135.52) scale(0.69,1)" text-anchor="end" font-family="Liberation Sans" font-size="22" fill="#262626">4000</text><text transform="translate(82,1188.22) scale(0.69,1)" text-anchor="end" font-family="Liberation Sans" font-size="22" fill="#262626">3500</text><text transform="translate(82,1242.52) scale(0.69,1)" text-anchor="end" font-family="Liberation Sans" font-size="22" fill="#262626">3000</text><text transform="translate(82,1296.52) scale(0.69,1)" text-anchor="end" font-family="Liberation Sans" font-size="22" fill="#262626">2500</text><text transform="translate(82,1350.6200000000001) scale(0.69,1)" text-anchor="end" font-family="Liberation Sans" font-size="22" fill="#262626">2000</text><text transform="translate(82,1404.52) scale(0.69,1)" text-anchor="end" font-family="Liberation Sans" font-size="22" fill="#262626">1500</text><text transform="translate(137.0,1457) scale(0.72,1) rotate(-45)" text-anchor="end" font-family="Liberation Sans" font-size="20" fill="#262626">01–28</text><text transform="translate(764.0,1457) scale(0.72,1) rotate(-45)" text-anchor="end" font-family="Liberation Sans" font-size="20" fill="#262626">01–28</text><text transform="translate(190.4,1457) scale(0.72,1) rotate(-45)" text-anchor="end" font-family="Liberation Sans" font-size="20" fill="#262626">03–12</text><text transform="translate(817.4,1457) scale(0.72,1) rotate(-45)" text-anchor="end" font-family="Liberation Sans" font-size="20" fill="#262626">03–12</text><text transform="translate(243.8,1457) scale(0.72,1) rotate(-45)" text-anchor="end" font-family="Liberation Sans" font-size="20" fill="#262626">04–25</text><text transform="translate(870.8,1457) scale(0.72,1) rotate(-45)" text-anchor="end" font-family="Liberation Sans" font-size="20" fill="#262626">04–25</text><text transform="translate(297.2,1457) scale(0.72,1) rotate(-45)" text-anchor="end" font-family="Liberation Sans" font-size="20" fill="#262626">06–09</text><text transform="translate(924.2,1457) scale(0.72,1) rotate(-45)" text-anchor="end" font-family="Liberation Sans" font-size="20" fill="#262626">06–09</text><text transform="translate(350.6,1457) scale(0.72,1) rotate(-45)" text-anchor="end" font-family="Liberation Sans" font-size="20" fill="#262626">07–24</text><text transform="translate(977.6,1457) scale(0.72,1) rotate(-45)" text-anchor="end" font-family="Liberation Sans" font-size="20" fill="#262626">07–24</text><text transform="translate(404.0,1457) scale(0.72,1) rotate(-45)" text-anchor="end" font-family="Liberation Sans" font-size="20" fill="#262626">09–06</text><text transform="translate(1031.0,1457) scale(0.72,1) rotate(-45)" text-anchor="end" font-family="Liberation Sans" font-size="20" fill="#262626">09–06</text><text transform="translate(457.4,1457) scale(0.72,1) rotate(-45)" text-anchor="end" font-family="Liberation Sans" font-size="20" fill="#262626">10–22</text><text transform="translate(1084.4,1457) scale(0.72,1) rotate(-45)" text-anchor="end" font-family="Liberation Sans" font-size="20" fill="#262626">10–22</text><text transform="translate(510.8,1457) scale(0.72,1) rotate(-45)" text-anchor="end" font-family="Liberation Sans" font-size="20" fill="#262626">12–05</text><text transform="translate(1137.8,1457) scale(0.72,1) rotate(-45)" text-anchor="end" font-family="Liberation Sans" font-size="20" fill="#262626">12–05</text><polyline points="729.9,1369.3 736.6,1369.3 738.2,1386.9 746.5,1386.9 748.2,1380.9 779.8,1380.9 781.5,1374.3 789.8,1374.3 793.1,1368.3 814.7,1368.3 816.4,1380.9 824.7,1380.9 826.3,1399.2 872.9,1399.2 874.6,1393.2 882.9,1393.2 884.5,1386.9 889.5,1386.9 891.2,1374.3 897.8,1374.3 899.5,1368.3 909.5,1368.3 912.8,1380.9 932.7,1380.9 934.4,1386.9 940.1,1386.9 940.0,1393.2 959.9,1399.2 968.3,1393.2 971.6,1386.9 983.2,1381.9 989.9,1386.9 994.9,1392.6 1001.5,1386.9 1003.2,1374.9 1016.5,1374.9 1018.1,1386.9 1024.8,1386.9 1026.4,1399.2 1081.3,1399.2 1083.0,1405.9 1099.6,1405.9 1101.3,1411.8 1126.2,1411.8 1127.9,1405.9 1146.1,1405.9 1147.8,1399.2 1162.8,1399.2 1164.4,1393.2 1169.4,1393.2" fill="none" stroke="#aeeeee" stroke-width="2.2" stroke-linejoin="round"/><polyline points="729.9,1350.0 733.2,1356.0 738.2,1356.0 739.9,1362.0 743.2,1362.0 746.5,1369.3 751.5,1369.3 753.2,1374.9 756.5,1374.9 758.2,1386.9 766.5,1386.9 769.8,1393.2 773.1,1386.9 781.5,1380.9 791.4,1380.9 794.8,1374.3 798.1,1368.3 823.0,1368.3 826.3,1380.9 831.3,1386.9 834.7,1411.8 841.3,1411.8 843.0,1405.9 846.3,1405.9 849.0,1411.8 854.6,1418.2 858.9,1411.8 876.2,1411.8 877.9,1405.9 886.2,1405.9 887.9,1399.2 896.2,1399.2 899.5,1386.9 907.8,1386.9 909.5,1374.9 921.1,1374.9 924.4,1362.6 932.7,1362.6 934.4,1350.0 940.1,1350.0 940.0,1350.0 956.6,1350.0 958.3,1356.0 963.3,1362.6 966.6,1374.9 969.9,1386.9 978.2,1386.9 979.9,1374.9 984.9,1368.6 988.2,1362.6 991.5,1356.0 994.9,1350.0 999.8,1344.3 1003.2,1332.0 1009.8,1332.0 1019.8,1326.1 1034.8,1326.1 1037.1,1319.4 1039.7,1326.1 1053.0,1326.1 1054.7,1332.0 1073.0,1332.0 1074.7,1326.1 1084.6,1326.1 1086.3,1313.4 1092.9,1313.4 1094.6,1307.8 1101.3,1301.1 1119.5,1301.1 1121.2,1313.4 1126.2,1313.4 1129.5,1350.0 1152.8,1350.0 1154.5,1356.0 1161.1,1356.0 1162.8,1368.6 1169.4,1368.6" fill="none" stroke="#00bfff" stroke-width="2.4" stroke-linejoin="round"/><polyline points="729.9,1393.2 796.4,1393.2 798.1,1399.2 803.1,1400.9 804.7,1405.9 809.7,1405.9 813.0,1411.8 818.0,1411.8 819.7,1418.2 841.3,1418.2 842.3,1424.1 881.2,1424.1 882.2,1418.2 894.5,1418.2 896.2,1411.8 906.1,1411.8 907.8,1405.9 914.5,1405.9 916.1,1400.9 921.1,1400.9 922.1,1399.2 929.4,1393.2 940.1,1393.2 940.0,1393.2 945.0,1386.9 953.3,1386.9 956.6,1393.2 963.3,1393.2 966.6,1399.2 971.6,1399.2 973.2,1405.9 1008.2,1405.9 1009.8,1399.2 1029.8,1399.2 1031.4,1393.2 1049.7,1393.2 1051.4,1386.9 1071.3,1386.9 1073.0,1380.9 1083.0,1380.9 1084.6,1374.9 1099.6,1374.9 1101.3,1368.6 1116.2,1368.6 1117.9,1362.6 1134.5,1362.6 1136.2,1356.0 1149.5,1356.0 1152.8,1350.0 1157.8,1350.0 1159.4,1344.3 1166.1,1344.3 1169.4,1332.0" fill="none" stroke="#4f6b93" stroke-width="2.2" stroke-linejoin="round"/><polyline points="729.9,1332.0 734.9,1332.0 736.6,1319.4 742.2,1319.4 744.9,1307.8 750.5,1307.8 752.2,1295.1 759.8,1295.1 761.5,1282.8 766.5,1282.8 768.2,1276.9 793.1,1276.9 794.8,1282.8 799.7,1282.8 803.1,1301.1 808.1,1301.1 809.7,1307.8 814.7,1319.4 818.0,1332.7 821.4,1344.3 824.7,1356.0 829.7,1367.6 836.3,1380.9 860.6,1380.9 862.9,1367.6 867.9,1356.0 871.2,1344.3 874.6,1332.7 879.5,1319.4 883.5,1307.8 887.9,1295.1 891.2,1282.8 896.8,1277.9 910.5,1277.9 912.8,1291.8 940.1,1291.8 940.0,1291.8 963.3,1291.8 964.9,1307.8 984.9,1307.8 986.5,1291.8 993.2,1291.8 994.9,1277.9 999.8,1277.9 1001.5,1262.9 1004.8,1262.9 1006.5,1248.6 1009.8,1248.6 1011.5,1233.6 1013.1,1233.6 1014.8,1218.7 1018.1,1218.7 1019.8,1203.7 1023.1,1203.7 1024.8,1188.7 1026.4,1188.7 1027.1,1164.8 1032.4,1164.8 1034.1,1139.9 1039.7,1139.9 1041.4,1114.9 1096.3,1114.9 1098.9,1139.9 1102.9,1139.9 1104.6,1164.8 1107.9,1164.8 1109.6,1188.7 1112.2,1188.7 1113.6,1214.7 1115.5,1214.7 1116.9,1238.0 1118.9,1238.0 1119.5,1262.9 1122.2,1262.9 1123.5,1287.8 1125.2,1287.8 1126.2,1312.1 1169.4,1312.1" fill="none" stroke="#6495ed" stroke-width="2.2" stroke-linejoin="round"/><polyline points="729.9,1300.1 733.2,1300.1 734.9,1275.2 738.2,1275.2 739.9,1250.3 773.1,1250.3 776.5,1300.1 794.8,1300.1 796.4,1275.2 801.4,1275.2 803.7,1250.3 809.1,1250.3 811.4,1225.3 817.0,1225.3 819.0,1201.4 851.3,1201.4 852.3,1176.4 861.9,1176.4 862.9,1151.5 881.2,1151.5 882.2,1176.4 887.2,1176.4 888.5,1201.4 894.5,1201.4 896.2,1225.3 903.8,1225.3 905.5,1250.3 921.1,1250.3 922.8,1238.3 927.7,1238.3 928.7,1213.0 935.1,1213.0 936.1,1250.3 940.1,1250.3 940.0,1250.3 953.3,1250.3 954.3,1275.2 963.9,1275.2 965.9,1300.1 972.3,1300.1 973.2,1325.1 981.6,1325.1 983.2,1349.3 996.5,1349.3 998.2,1325.1 1003.2,1325.1 1005.5,1300.1 1024.8,1300.1 1026.4,1312.8 1066.3,1312.8 1067.3,1300.1 1094.6,1300.1 1096.3,1312.8 1102.9,1312.8 1106.2,1337.0 1167.7,1337.0 1169.4,1332.0" fill="none" stroke="#4a6a96" stroke-width="3.2" stroke-linejoin="round"/><text transform="translate(705,1163.3200000000002) scale(0.69,1)" text-anchor="end" font-family="Liberation Sans" font-size="22" fill="#262626">4000</text><text transform="translate(705,1223.92) scale(0.69,1)" text-anchor="end" font-family="Liberation Sans" font-size="22" fill="#262626">3500</text><text transform="translate(705,1284.42) scale(0.69,1)" text-anchor="end" font-family="Liberation Sans" font-size="22" fill="#262626">3000</text><text transform="translate(705,1346.6200000000001) scale(0.69,1)" text-anchor="end" font-family="Liberation Sans" font-size="22" fill="#262626">2500</text><text transform="translate(705,1407.92) scale(0.69,1)" text-anchor="end" font-family="Liberation Sans" font-size="22" fill="#262626">2000</text><polyline points="106.9,1868.3 110.1,1876.2 113.2,1876.6 116.3,1879.3 118.8,1877.6 121.3,1879.6 123.9,1879.6 126.4,1879.8 128.9,1879.3 131.4,1880.4 133.9,1879.4 136.4,1880.6 138.9,1881.8 141.4,1880.9 144.6,1883.9 147.7,1885.6 150.0,1885.9 152.4,1887.1 154.8,1888.4 157.1,1888.7 159.4,1887.7 161.8,1886.7 164.2,1885.6 166.5,1885.6 168.8,1886.1 171.2,1887.5 173.6,1888.5 175.9,1891.8 178.2,1890.3 180.6,1889.5 183.0,1888.5 185.3,1888.7 188.4,1884.4 191.5,1880.9 194.0,1879.0 196.5,1880.2 199.1,1879.2 201.6,1879.9 204.1,1880.9 206.6,1880.5 209.1,1880.5 211.6,1883.1 214.1,1884.0 216.6,1884.0 218.9,1886.7 221.3,1888.8 223.7,1889.4 226.0,1891.8 228.3,1893.7 230.7,1896.0 233.1,1897.4 235.4,1898.1 238.5,1905.7 241.6,1910.6 244.1,1910.9 246.6,1910.7 249.2,1912.5 251.7,1912.2 254.2,1913.8 256.7,1913.2 259.2,1915.0 261.7,1915.4 264.2,1917.5 266.7,1916.9 269.2,1917.2 271.7,1916.5 274.2,1915.9 276.7,1916.2 279.2,1918.5 281.7,1917.5 284.2,1917.4 286.8,1917.6 289.3,1917.2 291.8,1917.5 294.3,1915.2 296.8,1915.2 299.3,1914.9 301.8,1916.0 304.3,1916.3 306.8,1916.6 309.3,1917.0 311.8,1918.3 314.3,1918.1 316.8,1918.5 319.5,1919.5 322.3,1919.7 325.0,1920.0 325.0,1920.0 327.4,1918.9 329.7,1917.9 332.0,1917.3 334.4,1916.9 336.8,1918.1 339.1,1919.4 341.4,1921.5 343.8,1924.7 346.3,1924.2 348.8,1924.7 351.3,1926.6 353.8,1927.4 356.3,1927.9 358.8,1928.1 361.3,1926.9 363.9,1926.1 366.4,1926.2 368.9,1927.9 371.2,1927.9 373.6,1928.2 375.9,1926.4 378.3,1926.3 380.6,1923.6 383.0,1921.6 385.4,1918.3 387.7,1912.2 390.1,1911.6 392.4,1910.2 394.8,1910.8 397.1,1910.6 399.5,1910.6 401.8,1912.1 404.1,1913.9 406.5,1913.8 409.6,1913.6 412.7,1915.3 415.9,1917.2 419.0,1918.5 421.4,1916.4 423.7,1915.4 426.0,1913.4 428.4,1912.2 430.8,1909.8 433.1,1907.8 435.4,1906.3 437.8,1904.4 440.3,1906.5 442.8,1906.4 445.3,1906.4 447.8,1906.8 450.3,1907.5 452.6,1908.7 455.0,1908.2 457.4,1908.9 459.7,1909.1 462.9,1911.9 466.0,1910.6 468.5,1910.3 471.0,1908.8 473.5,1907.1 476.0,1907.2 478.5,1907.5 480.9,1906.3 483.2,1908.2 485.5,1908.8 487.9,1910.6 490.2,1910.1 492.6,1912.7 494.9,1913.3 497.3,1915.3 499.6,1911.7 502.0,1909.1 504.4,1909.3 506.7,1907.5 509.2,1908.4 511.7,1908.6 514.2,1908.4 516.7,1908.2 519.2,1910.6 521.6,1908.2 523.9,1909.8 526.2,1908.6 528.6,1909.1 531.0,1904.6 533.3,1900.5 535.6,1897.3 538.0,1895.0 540.6,1893.7 543.3,1894.1 545.9,1893.4" fill="none" stroke="#aeeeee" stroke-width="2" stroke-linejoin="round"/><polyline points="106.9,1908.4 109.1,1907.7 111.4,1906.8 113.6,1907.9 115.9,1907.4 118.1,1908.1 120.4,1907.3 122.6,1908.4 125.8,1906.5 128.9,1902.8 132.0,1903.1 135.1,1905.9 138.3,1901.2 141.4,1898.4 144.5,1895.0 147.7,1900.5 150.8,1904.4 153.2,1905.6 155.5,1904.6 157.8,1905.9 160.2,1905.9 162.5,1906.3 164.9,1905.8 167.2,1906.8 169.6,1905.9 172.8,1912.5 175.9,1915.3 179.0,1911.5 182.1,1907.5 185.2,1904.5 188.4,1898.1 190.8,1892.6 193.1,1885.6 195.7,1888.4 198.3,1890.7 200.9,1890.3 203.2,1885.2 205.6,1882.4 208.2,1882.4 210.9,1882.4 213.5,1884.0 215.8,1887.8 218.2,1893.4 220.5,1893.8 222.9,1892.5 225.2,1891.8 227.6,1893.4 229.1,1876.2 232.2,1872.2 235.4,1871.5 237.8,1872.1 240.1,1876.2 243.2,1875.0 246.3,1877.7 247.9,1888.7 251.1,1890.2 254.2,1891.8 257.3,1894.4 260.4,1899.7 262.8,1897.9 265.1,1897.6 267.4,1897.8 269.8,1899.7 272.1,1896.9 274.5,1895.8 276.9,1893.1 279.2,1893.4 282.4,1892.3 285.5,1890.3 287.9,1892.9 290.2,1893.9 292.5,1895.3 294.9,1898.1 297.2,1898.1 299.6,1898.0 301.9,1897.5 304.3,1899.7 307.5,1896.2 310.6,1890.3 313.0,1890.4 315.3,1888.4 317.6,1886.0 320.0,1885.6 322.5,1885.2 325.0,1884.0 325.0,1890.3 328.1,1888.0 331.3,1884.0 333.6,1884.0 336.0,1882.1 338.4,1882.3 340.7,1880.9 343.1,1882.8 345.4,1884.9 347.8,1884.5 350.1,1885.6 353.2,1888.2 356.3,1888.7 358.9,1889.9 361.6,1891.2 364.2,1890.3 366.8,1893.8 369.4,1896.3 372.0,1898.1 374.6,1900.2 377.2,1900.6 379.8,1901.2 383.0,1903.4 386.1,1907.5 388.5,1907.2 390.8,1910.6 394.0,1906.0 397.1,1902.8 399.5,1900.9 401.8,1901.6 404.1,1899.4 406.5,1899.7 408.9,1899.7 411.2,1901.9 413.5,1903.4 415.9,1902.8 418.2,1903.0 420.6,1901.7 422.9,1902.6 425.3,1901.2 427.6,1900.6 430.0,1901.4 432.4,1901.3 434.7,1899.7 437.1,1901.0 439.4,1900.8 441.8,1901.3 444.1,1901.2 447.2,1904.4 450.3,1909.1 452.6,1910.1 455.0,1910.2 457.4,1909.7 459.7,1907.5 462.9,1908.7 466.0,1910.6 468.4,1909.4 470.7,1909.2 473.0,1908.8 475.4,1907.5 477.9,1907.1 480.4,1905.2 482.9,1903.9 485.4,1904.7 487.9,1904.4 490.4,1902.7 492.9,1902.0 495.4,1900.8 497.9,1900.5 500.4,1898.1 502.8,1899.1 505.1,1898.7 507.4,1899.8 509.8,1901.2 512.1,1901.8 514.5,1903.5 516.9,1903.9 519.2,1904.4 522.4,1874.6 525.5,1875.9 528.6,1879.3 531.8,1873.0 534.1,1873.9 536.5,1872.9 538.9,1870.2 541.2,1868.3 543.5,1868.3 545.9,1870.5" fill="none" stroke="#00bfff" stroke-width="2.2" stroke-linejoin="round"/><polyline points="106.9,1895.0 109.5,1896.9 112.2,1897.1 114.8,1898.1 117.2,1900.5 119.5,1901.9 122.0,1901.2 124.5,1901.5 127.0,1901.7 129.5,1900.5 132.0,1901.2 134.2,1900.8 136.4,1901.5 138.6,1899.5 140.8,1900.8 143.0,1899.7 146.1,1894.3 149.2,1901.2 151.8,1904.5 154.5,1905.2 157.1,1907.5 159.4,1906.4 161.8,1908.2 164.2,1908.7 166.5,1909.1 168.8,1908.5 171.2,1910.6 173.6,1903.1 175.9,1899.7 179.0,1901.2 182.1,1904.4 185.2,1901.7 188.4,1901.2 191.6,1907.4 194.7,1910.6 197.8,1915.4 200.9,1916.9 204.1,1916.1 207.2,1915.3 209.5,1914.1 211.9,1915.4 214.2,1915.4 216.6,1915.3 219.7,1900.6 222.1,1901.2 224.4,1901.2 226.8,1903.5 229.1,1907.5 232.2,1909.0 235.4,1912.2 238.5,1913.0 241.6,1910.6 243.9,1910.1 246.3,1906.6 248.7,1902.5 251.0,1899.7 253.3,1901.5 255.7,1903.2 258.0,1903.6 260.4,1904.4 263.5,1908.7 266.7,1913.8 269.9,1915.5 273.0,1920.0 275.5,1921.3 278.0,1920.6 280.5,1922.9 283.0,1924.3 285.5,1923.2 288.0,1923.4 290.5,1923.9 293.0,1925.1 295.5,1924.3 298.0,1925.7 300.5,1923.7 303.0,1925.2 305.6,1926.2 308.1,1926.7 310.6,1924.7 313.0,1926.3 315.4,1924.8 317.8,1925.2 320.2,1926.3 322.6,1927.1 325.0,1926.3 325.0,1924.7 327.4,1923.3 329.7,1926.1 332.0,1925.9 334.4,1927.9 336.8,1927.2 339.1,1928.6 341.4,1927.3 343.8,1927.9 346.3,1929.0 348.8,1928.7 351.3,1929.1 353.8,1929.4 356.3,1932.6 358.6,1931.4 361.0,1931.3 363.4,1930.8 365.7,1931.0 368.1,1931.8 370.4,1931.2 372.8,1930.4 375.1,1929.4 378.2,1929.4 381.4,1927.9 384.5,1931.7 387.7,1935.7 390.2,1935.7 392.7,1936.9 395.2,1937.2 397.7,1938.9 400.2,1940.4 403.4,1940.5 406.5,1945.1 409.6,1940.2 412.7,1940.4 415.9,1938.6 419.0,1937.3 422.1,1939.8 425.3,1940.4 428.4,1939.9 431.5,1937.3 434.6,1938.9 437.8,1940.4 441.0,1941.8 444.1,1942.0 446.5,1945.7 448.8,1949.8 451.4,1949.5 454.0,1948.2 456.6,1948.2 459.8,1950.5 462.9,1949.8 465.2,1949.3 467.6,1949.0 469.9,1948.0 472.3,1945.1 475.4,1943.3 478.5,1937.3 480.9,1939.6 483.2,1940.5 485.5,1941.4 487.9,1940.4 491.0,1937.9 494.2,1934.1 496.5,1936.0 498.9,1935.7 501.2,1941.3 503.6,1945.1 506.7,1949.3 509.8,1951.4 513.0,1951.0 516.1,1952.9 518.5,1957.3 520.8,1963.9 523.1,1957.0 525.5,1949.8 528.6,1956.1 531.0,1965.2 533.3,1973.3 535.6,1970.2 538.0,1965.5 541.2,1976.4 543.5,1968.1 545.9,1960.8" fill="none" stroke="#4f6b93" stroke-width="2.2" stroke-linejoin="round"/><polyline points="106.9,1968.6 109.2,1969.8 111.6,1971.7 113.9,1976.7 116.3,1981.1 119.5,1979.6 122.0,1960.8 125.7,1968.6 128.1,1961.1 130.4,1954.5 132.8,1952.3 135.1,1951.4 137.4,1947.0 139.8,1938.8 142.9,1935.9 146.1,1929.4 149.2,1938.8 151.6,1940.1 153.9,1942.0 156.2,1943.6 158.6,1943.3 161.0,1943.6 163.3,1943.5 166.5,1949.8 168.8,1940.2 171.2,1932.6 173.6,1930.2 175.9,1929.4 179.0,1921.6 182.1,1940.4 184.4,1936.7 186.8,1935.7 189.2,1939.0 191.5,1940.4 194.7,1937.3 197.8,1962.3 200.4,1961.0 203.0,1957.8 205.6,1954.5 207.9,1957.1 210.3,1962.3 212.7,1966.5 215.0,1970.2 218.2,1957.6 221.3,1958.8 224.4,1956.1 227.0,1959.1 229.7,1958.9 232.3,1960.8 235.4,1970.2 238.5,1966.2 241.6,1962.3 243.9,1966.0 246.3,1970.2 248.9,1968.0 251.6,1962.7 254.2,1957.6 257.3,1959.2 260.4,1982.7 262.8,1988.0 265.1,1992.1 268.3,1973.3 272.4,1971.7 276.1,1909.1 278.5,1913.2 280.8,1916.9 283.1,1919.3 285.5,1923.2 287.9,1929.3 290.2,1932.6 293.3,1929.4 295.6,1931.3 298.0,1927.9 301.2,1951.4 303.8,1951.1 306.4,1952.4 309.0,1951.4 311.4,1948.5 313.7,1945.1 316.1,1944.3 318.4,1945.0 320.8,1944.0 323.1,1943.5 325.0,1932.6 325.0,1927.9 327.4,1930.7 329.7,1932.6 332.0,1924.0 334.4,1913.8 337.5,1910.6 340.7,1920.0 343.8,1932.6 347.0,1938.7 350.1,1945.1 353.2,1949.4 356.3,1951.4 360.1,1968.6 364.2,1945.1 366.5,1935.4 368.9,1926.3 372.0,1927.9 375.1,1932.6 378.3,1879.3 381.4,1874.6 384.5,1851.1 387.7,1857.4 391.4,1888.7 394.6,1860.5 398.6,1855.8 400.2,1757.1 402.7,1779.1 406.5,1780.6 409.0,1860.5 411.2,1801.0 414.3,1794.7 415.9,1760.3 418.2,1752.9 420.6,1744.6 423.0,1745.9 425.3,1746.2 428.4,1791.6 430.9,1761.8 433.1,1769.7 436.2,1841.7 439.4,1841.5 442.5,1841.7 445.6,1821.3 448.8,1885.6 451.9,1895.0 456.0,1948.2 460.3,1788.5 464.4,1801.0 466.8,1749.2 469.1,1700.7 472.9,1683.5 475.4,1736.8 478.5,1725.8 481.6,1713.3 484.8,1763.4 487.9,1738.3 491.0,1692.9 494.2,1826.0 496.5,1826.5 498.9,1829.2 501.2,1868.4 503.6,1907.5 506.0,1916.3 508.3,1924.7 510.6,1914.5 513.0,1907.5 515.4,1912.3 517.7,1916.9 520.0,1908.0 522.4,1898.1 524.8,1910.0 527.1,1923.2 529.5,1927.2 531.8,1932.6 534.9,1943.7 538.0,1956.1 541.2,1934.1 543.5,1939.4 545.9,1942.0" fill="none" stroke="#6495ed" stroke-width="2" stroke-linejoin="round"/><polyline points="106.9,1957.6 110.7,1960.1 112.6,1907.5 116.3,1903.7 117.9,1901.2 118.8,1888.7 121.0,1882.4 124.2,1879.3 125.1,1863.6 126.7,1879.3 128.9,1863.6 131.4,1866.8 133.6,1857.4 136.7,1863.6 138.3,1874.6 149.2,1874.6 152.4,1901.2 325.0,1901.2 325.0,1901.9 544.3,1901.9" fill="none" stroke="#4a6a96" stroke-width="3.2" stroke-linejoin="round"/><polyline points="729.9,1910.0 732.1,1910.3 734.3,1908.9 736.5,1908.8 738.8,1908.3 741.0,1910.3 743.2,1910.3 745.4,1910.5 747.6,1910.6 749.9,1910.8 752.1,1909.5 754.3,1910.4 756.5,1911.2 758.7,1909.4 760.9,1910.7 763.1,1910.2 765.4,1909.6 767.6,1909.9 769.8,1910.5 772.0,1911.5 774.2,1909.8 776.5,1909.5 778.7,1909.3 780.9,1908.9 783.1,1909.0 785.3,1908.8 787.5,1908.3 789.8,1908.4 792.0,1909.2 794.2,1909.3 796.4,1909.0 798.6,1910.3 800.8,1909.6 803.0,1908.6 805.3,1908.1 807.5,1909.3 809.7,1908.3 811.9,1909.0 814.1,1908.4 816.4,1909.0 818.6,1908.4 820.8,1910.3 823.0,1910.7 825.2,1910.6 827.4,1910.7 829.6,1910.9 831.9,1909.5 834.1,1910.4 836.3,1910.3 838.5,1911.1 840.7,1910.9 843.0,1911.0 845.2,1911.4 847.4,1910.2 849.6,1909.6 851.8,1908.8 854.0,1910.0 856.2,1909.0 858.5,1908.7 860.7,1908.8 862.9,1910.0 865.1,1909.7 867.3,1911.2 869.5,1910.9 871.8,1910.0 874.0,1909.0 876.2,1908.0 878.4,1908.1 880.6,1909.2 882.9,1909.2 885.1,1909.3 887.3,1909.7 889.5,1910.0 892.0,1908.5 894.5,1907.6 897.0,1907.8 899.5,1909.4 901.7,1908.9 903.9,1908.4 906.1,1909.3 908.4,1909.4 910.6,1910.3 912.8,1909.7 915.0,1909.7 917.2,1910.2 919.4,1909.9 921.6,1908.7 923.8,1909.0 926.1,1909.5 928.3,1909.3 930.5,1909.6 932.7,1910.0 935.2,1910.2 937.6,1910.4 940.1,1912.7 940.0,1939.3 942.2,1939.3 944.4,1940.2 946.6,1942.6 948.8,1946.1 951.1,1950.5 953.3,1952.6 955.5,1951.6 957.7,1950.8 959.9,1952.6 962.1,1954.9 964.4,1960.7 966.6,1964.2 968.8,1961.1 971.0,1957.7 973.2,1955.9 975.4,1953.9 977.7,1952.9 979.9,1949.3 982.1,1945.8 984.3,1941.5 986.5,1939.3 988.7,1937.1 991.0,1934.0 993.2,1932.6 995.7,1924.3 998.2,1914.3 1001.5,1926.0 1004.0,1924.6 1006.5,1926.0 1008.7,1924.4 1010.9,1923.3 1013.1,1922.7 1015.3,1920.1 1017.6,1919.2 1019.8,1916.0 1022.0,1917.8 1024.2,1920.4 1026.4,1922.7 1028.6,1926.4 1030.9,1927.8 1033.1,1929.3 1035.3,1935.8 1037.5,1943.7 1039.7,1949.3 1041.9,1945.9 1044.2,1942.8 1046.4,1939.3 1049.7,1938.0 1053.0,1932.6 1055.2,1930.8 1057.5,1927.6 1059.7,1926.0 1063.0,1925.1 1066.3,1926.0 1068.5,1922.9 1070.8,1922.9 1073.0,1922.7 1076.3,1919.8 1079.6,1919.3 1081.8,1922.4 1084.1,1925.2 1086.3,1929.3 1088.5,1929.9 1090.7,1931.5 1092.9,1936.0 1095.1,1933.7 1097.4,1931.9 1099.6,1929.3 1101.8,1926.1 1104.0,1923.2 1106.2,1922.7 1108.4,1925.1 1110.7,1931.5 1112.9,1936.0 1116.2,1937.8 1119.5,1942.6 1121.7,1943.3 1124.0,1945.8 1126.2,1949.3 1129.5,1943.5 1132.8,1939.3 1135.0,1941.7 1137.3,1946.7 1139.5,1949.3 1142.8,1940.8 1146.1,1932.6 1148.6,1930.2 1151.1,1929.4 1153.6,1927.5 1156.1,1926.0 1158.3,1925.8 1160.6,1924.0 1162.8,1924.3 1165.0,1924.6 1167.2,1929.4 1169.4,1932.6" fill="none" stroke="#aeeeee" stroke-width="2" stroke-linejoin="round"/><polyline points="729.9,1928.6 732.1,1928.7 734.4,1930.6 736.6,1930.0 739.9,1924.3 742.1,1924.2 744.3,1924.3 746.5,1926.0 748.7,1925.1 751.0,1923.9 753.2,1922.7 756.5,1921.3 759.8,1919.3 762.6,1919.8 765.4,1918.3 768.2,1919.3 770.7,1913.7 773.1,1907.7 775.3,1909.9 777.6,1910.5 779.8,1909.4 782.0,1912.4 784.2,1913.8 786.4,1917.7 788.9,1916.8 791.4,1915.5 793.9,1916.0 796.4,1916.0 799.7,1922.7 801.9,1925.0 804.2,1927.6 806.4,1929.3 808.6,1932.8 810.8,1935.0 813.0,1939.3 815.5,1937.3 818.0,1936.0 820.5,1939.9 823.0,1942.6 825.5,1943.9 828.0,1944.4 830.5,1943.5 833.0,1942.6 835.2,1933.0 837.4,1921.5 839.6,1909.4 841.8,1913.0 844.1,1915.3 846.3,1916.0 848.5,1921.1 850.7,1926.5 852.9,1929.3 855.1,1928.0 857.4,1927.2 859.6,1926.0 861.8,1927.3 864.0,1928.8 866.2,1932.6 868.4,1928.1 870.7,1922.5 872.9,1919.3 875.1,1921.9 877.3,1926.2 879.5,1929.3 881.7,1929.0 884.0,1930.1 886.2,1931.0 889.5,1933.1 892.8,1939.3 895.0,1939.2 897.3,1940.0 899.5,1939.3 901.7,1937.0 903.9,1935.5 906.1,1932.6 908.3,1933.3 910.6,1933.4 912.8,1936.0 915.0,1938.2 917.2,1939.9 919.4,1942.6 921.6,1939.4 923.9,1938.7 926.1,1936.0 928.3,1936.3 930.5,1937.5 932.7,1939.3 935.2,1938.5 937.6,1937.1 940.1,1936.0 940.0,1936.0 942.2,1941.1 944.4,1943.1 946.6,1945.9 948.8,1943.1 951.1,1938.8 953.3,1936.0 955.5,1931.1 957.7,1927.5 959.9,1926.0 962.1,1931.4 964.4,1936.0 966.6,1942.6 968.8,1945.9 971.0,1948.6 973.2,1949.3 975.4,1947.2 977.7,1946.6 979.9,1945.9 982.1,1947.5 984.3,1949.2 986.5,1949.3 988.7,1947.9 991.0,1946.6 993.2,1944.3 996.5,1943.0 999.8,1942.6 1002.0,1941.5 1004.3,1940.3 1006.5,1939.3 1008.7,1938.8 1010.9,1936.9 1013.1,1936.0 1015.3,1935.2 1017.6,1934.7 1019.8,1932.6 1022.0,1935.5 1024.2,1938.7 1026.4,1939.3 1028.6,1938.8 1030.9,1936.2 1033.1,1932.6 1035.3,1930.3 1037.5,1930.7 1039.7,1929.3 1041.9,1927.7 1044.2,1926.8 1046.4,1926.0 1049.7,1925.0 1053.0,1922.7 1055.5,1920.5 1058.0,1919.3 1060.5,1922.1 1063.0,1926.0 1065.2,1927.3 1067.5,1931.2 1069.7,1932.6 1073.0,1936.9 1076.3,1939.3 1078.5,1939.5 1080.8,1937.1 1083.0,1936.0 1086.3,1935.3 1089.6,1936.0 1091.8,1937.2 1094.1,1940.5 1096.3,1945.9 1098.5,1946.1 1100.7,1948.2 1102.9,1952.6 1106.2,1962.6 1108.4,1959.7 1110.7,1955.8 1112.9,1952.6 1116.2,1954.0 1119.5,1955.9 1121.7,1953.9 1124.0,1953.3 1126.2,1952.6 1129.5,1953.4 1132.8,1955.9 1135.0,1957.2 1137.3,1957.5 1139.5,1959.2 1142.8,1949.1 1146.1,1939.3 1148.3,1944.3 1150.6,1949.8 1152.8,1952.6 1155.0,1955.3 1157.2,1956.0 1159.4,1959.2 1161.9,1958.1 1164.4,1955.2 1166.9,1952.7 1169.4,1952.6" fill="none" stroke="#4f6b93" stroke-width="2.2" stroke-linejoin="round"/><polyline points="729.9,1954.2 732.1,1955.1 734.4,1954.1 736.6,1954.2 739.9,1942.6 743.2,1892.7 745.7,1893.7 748.2,1892.7 750.7,1889.0 753.2,1886.1 755.7,1881.7 758.2,1879.4 760.7,1866.9 763.2,1856.2 765.7,1853.7 768.2,1847.9 771.5,1869.5 774.0,1873.6 776.5,1879.4 779.0,1878.0 781.5,1878.5 783.9,1877.4 786.4,1877.8 788.1,1906.0 790.6,1898.7 793.1,1889.4 795.6,1890.2 798.1,1886.1 800.6,1890.6 803.1,1892.7 806.4,1879.4 808.9,1874.7 811.4,1866.1 814.7,1892.7 817.2,1900.7 819.7,1906.0 823.0,1922.7 825.2,1931.3 827.5,1938.3 829.7,1942.6 832.2,1949.3 834.7,1952.6 837.2,1964.7 839.6,1975.9 841.8,1975.0 844.1,1974.7 846.3,1972.5 848.5,1971.7 850.7,1970.1 852.9,1969.2 855.1,1969.9 857.4,1970.9 859.6,1970.9 861.8,1973.8 864.0,1974.4 866.2,1974.2 868.7,1977.0 871.2,1977.5 872.9,1942.6 876.2,1932.6 878.4,1932.7 880.7,1931.9 882.9,1932.6 886.2,1939.3 889.5,1919.3 892.0,1901.6 894.5,1886.1 897.0,1876.5 899.5,1869.5 902.0,1873.1 904.5,1879.4 907.0,1882.9 909.5,1886.1 912.8,1909.4 916.1,1909.4 918.6,1914.9 921.1,1922.7 923.6,1928.9 926.1,1936.0 929.4,1922.7 932.7,1902.7 935.2,1907.4 937.6,1912.6 940.1,1919.3 940.0,1919.3 942.5,1909.4 945.0,1902.7 948.3,1882.8 951.6,1899.4 954.1,1885.6 956.6,1874.5 959.1,1879.2 961.6,1886.1 964.9,1899.4 968.3,1922.7 970.8,1935.7 973.2,1949.3 975.7,1951.7 978.2,1952.6 980.7,1953.4 983.2,1952.6 985.7,1940.4 988.2,1926.0 990.7,1937.9 993.2,1945.9 995.7,1947.1 998.2,1945.9 1000.7,1942.1 1003.2,1939.3 1004.8,1886.1 1008.2,1869.5 1009.8,1849.5 1013.1,1866.1 1016.5,1886.1 1019.8,1859.5 1023.1,1852.8 1026.4,1826.2 1029.8,1846.2 1033.1,1869.5 1036.4,1812.9 1039.7,1793.0 1043.1,1766.4 1045.6,1768.0 1048.1,1769.7 1051.4,1819.6 1054.7,1776.4 1058.0,1822.9 1059.7,1846.2 1062.5,1844.2 1065.2,1841.8 1068.0,1839.5 1069.7,1872.8 1072.2,1890.7 1074.7,1912.7 1077.2,1925.0 1079.6,1939.3 1083.0,1796.3 1085.5,1814.3 1088.0,1832.9 1091.3,1759.7 1094.6,1696.6 1096.3,1683.3 1098.9,1759.7 1101.3,1773.0 1104.6,1793.0 1107.9,1846.2 1110.4,1831.6 1112.9,1816.3 1116.2,1866.1 1118.7,1883.1 1121.2,1896.1 1122.9,1955.9 1125.4,1946.0 1127.9,1936.0 1130.3,1930.5 1132.8,1926.0 1135.3,1945.8 1137.8,1965.9 1140.3,1958.6 1142.8,1952.6 1145.0,1950.9 1147.3,1949.0 1149.5,1949.3 1152.0,1958.8 1154.5,1965.9 1157.0,1975.2 1159.4,1985.8 1162.8,1985.8 1166.1,1945.9 1169.4,1945.9" fill="none" stroke="#6495ed" stroke-width="2" stroke-linejoin="round"/><polyline points="729.9,1954.2 733.2,1955.9 734.9,1964.2 738.2,1952.6 741.6,1926.0 744.9,1899.4 748.2,1879.4 749.9,1896.1 753.2,1889.4 754.9,1906.0 758.2,1887.7 761.5,1892.7 764.8,1902.7 767.3,1904.6 769.8,1907.7 773.1,1916.0 776.5,1952.6 779.8,1959.2 783.1,1962.6 785.6,1971.0 788.1,1979.2 790.6,1979.4 793.1,1980.8 796.4,1926.0 799.7,1932.6 801.4,1952.6 804.7,1959.2 808.1,1952.6 809.7,1972.5 813.0,1936.0 815.5,1914.9 818.0,1894.4 819.7,1919.3 823.0,1942.6 826.3,1944.3 828.8,1940.6 831.3,1936.0 833.0,1952.6 836.3,1955.9 839.6,1972.5 841.8,1973.2 844.1,1972.3 846.3,1972.5 849.6,1952.6 852.9,1955.9 856.3,1972.5 859.6,1959.2 862.9,1904.4 866.2,1892.7 867.9,1879.4 871.2,1859.5 872.9,1869.5 874.6,1877.8 877.4,1877.3 880.1,1877.6 882.9,1877.8 886.2,1872.8 889.5,1892.7 892.8,1902.7 896.2,1919.3 899.5,1926.0 902.8,1936.0 905.3,1930.4 907.8,1926.0 911.1,1945.9 914.5,1965.9 917.0,1967.0 919.4,1969.2 922.8,1952.6 925.0,1933.5 927.2,1913.5 929.4,1896.1 932.7,1886.1 936.1,1877.8 940.1,1912.7 940.0,1912.7 943.3,1919.3 946.6,1945.9 949.1,1936.2 951.6,1926.0 955.0,1942.6 957.5,1936.4 959.9,1932.6 962.4,1916.2 964.9,1899.4 968.3,1899.4 971.6,1932.6 974.1,1940.6 976.6,1952.6 979.9,1972.5 983.2,1992.5 986.5,1972.5 989.9,1979.2 993.2,1959.2 996.5,1972.5 999.8,1989.2 1003.2,1979.2 1006.5,1952.6 1009.8,1939.3 1012.3,1931.0 1014.8,1922.7 1017.3,1918.3 1019.8,1916.0 1023.1,1907.7 1026.4,1919.3 1028.9,1917.1 1031.4,1912.7 1033.1,1929.3 1035.3,1931.4 1037.5,1934.5 1039.7,1939.3 1041.9,1935.2 1044.2,1933.0 1046.4,1929.3 1048.9,1931.6 1051.4,1934.3 1054.2,1934.5 1056.9,1934.9 1059.7,1934.3 1062.5,1934.5 1065.2,1936.6 1068.0,1936.0 1069.7,1949.3 1073.0,1929.3 1076.3,1910.5 1079.6,1892.7 1081.8,1889.9 1084.1,1890.0 1086.3,1889.4 1088.8,1887.1 1091.3,1882.8 1094.6,1876.1 1097.9,1892.7 1100.4,1906.5 1102.9,1919.3 1106.2,1942.6 1108.4,1946.8 1110.7,1950.6 1112.9,1955.9 1116.2,1958.7 1119.5,1959.2 1121.7,1960.1 1123.9,1959.4 1126.2,1959.3 1128.4,1959.5 1130.6,1959.4 1132.8,1958.6 1135.1,1958.9 1137.3,1957.9 1139.5,1959.2 1141.8,1957.9 1144.1,1957.8 1146.4,1957.0 1148.7,1958.0 1151.0,1957.7 1153.3,1956.9 1155.6,1955.9 1157.9,1955.6 1160.2,1955.9 1162.5,1956.8 1164.8,1957.8 1167.1,1957.8 1169.4,1955.9" fill="none" stroke="#4a6a96" stroke-width="3" stroke-linejoin="round"/><text transform="translate(81,1692.92) scale(0.69,1)" text-anchor="end" font-family="Liberation Sans" font-size="22" fill="#262626">1500</text><text transform="translate(81,1765.6200000000001) scale(0.69,1)" text-anchor="end" font-family="Liberation Sans" font-size="22" fill="#262626">1000</text><text transform="translate(81,1838.92) scale(0.69,1)" text-anchor="end" font-family="Liberation Sans" font-size="22" fill="#262626">500</text><text transform="translate(81,1911.72) scale(0.69,1)" text-anchor="end" font-family="Liberation Sans" font-size="22" fill="#262626">0</text><text transform="translate(81,1985.22) scale(0.69,1)" text-anchor="end" font-family="Liberation Sans" font-size="22" fill="#262626">−500</text><text transform="translate(705,1701.92) scale(0.69,1)" text-anchor="end" font-family="Liberation Sans" font-size="22" fill="#262626">1500</text><text transform="translate(705,1789.42) scale(0.69,1)" text-anchor="end" font-family="Liberation Sans" font-size="22" fill="#262626">1000</text><text transform="translate(705,1877.1200000000001) scale(0.69,1)" text-anchor="end" font-family="Liberation Sans" font-size="22" fill="#262626">500</text><text transform="translate(705,1963.72) scale(0.69,1)" text-anchor="end" font-family="Liberation Sans" font-size="22" fill="#262626">0</text><text transform="translate(137.0,2027) scale(0.72,1) rotate(-45)" text-anchor="end" font-family="Liberation Sans" font-size="20" fill="#262626">01–28</text><text transform="translate(764.0,2027) scale(0.72,1) rotate(-45)" text-anchor="end" font-family="Liberation Sans" font-size="20" fill="#262626">01–28</text><text transform="translate(190.4,2027) scale(0.72,1) rotate(-45)" text-anchor="end" font-family="Liberation Sans" font-size="20" fill="#262626">03–12</text><text transform="translate(817.4,2027) scale(0.72,1) rotate(-45)" text-anchor="end" font-family="Liberation Sans" font-size="20" fill="#262626">03–12</text><text transform="translate(243.8,2027) scale(0.72,1) rotate(-45)" text-anchor="end" font-family="Liberation Sans" font-size="20" fill="#262626">04–25</text><text transform="translate(870.8,2027) scale(0.72,1) rotate(-45)" text-anchor="end" font-family="Liberation Sans" font-size="20" fill="#262626">04–25</text><text transform="translate(297.2,2027) scale(0.72,1) rotate(-45)" text-anchor="end" font-family="Liberation Sans" font-size="20" fill="#262626">06–09</text><text transform="translate(924.2,2027) scale(0.72,1) rotate(-45)" text-anchor="end" font-family="Liberation Sans" font-size="20" fill="#262626">06–09</text><text transform="translate(350.6,2027) scale(0.72,1) rotate(-45)" text-anchor="end" font-family="Liberation Sans" font-size="20" fill="#262626">07–24</text><text transform="translate(977.6,2027) scale(0.72,1) rotate(-45)" text-anchor="end" font-family="Liberation Sans" font-size="20" fill="#262626">07–24</text><text transform="translate(404.0,2027) scale(0.72,1) rotate(-45)" text-anchor="end" font-family="Liberation Sans" font-size="20" fill="#262626">09–06</text><text transform="translate(1031.0,2027) scale(0.72,1) rotate(-45)" text-anchor="end" font-family="Liberation Sans" font-size="20" fill="#262626">09–06</text><text transform="translate(457.4,2027) scale(0.72,1) rotate(-45)" text-anchor="end" font-family="Liberation Sans" font-size="20" fill="#262626">10–22</text><text transform="translate(1084.4,2027) scale(0.72,1) rotate(-45)" text-anchor="end" font-family="Liberation Sans" font-size="20" fill="#262626">10–22</text><text transform="translate(510.8,2027) scale(0.72,1) rotate(-45)" text-anchor="end" font-family="Liberation Sans" font-size="20" fill="#262626">12–05</text><text transform="translate(1137.8,2027) scale(0.72,1) rotate(-45)" text-anchor="end" font-family="Liberation Sans" font-size="20" fill="#262626">12–05</text><path d="M106.70 2419.18h1.45v34.07h-1.45zM108.53 2408.27h1.45v44.97h-1.45zM110.36 2403.38h1.45v49.86h-1.45zM112.19 2427.16h1.45v26.08h-1.45zM114.02 2415.64h1.45v37.61h-1.45zM115.85 2412.39h1.45v40.86h-1.45zM117.68 2401.70h1.45v51.54h-1.45zM119.51 2392.12h1.45v61.12h-1.45zM121.34 2407.95h1.45v45.29h-1.45zM123.17 2406.20h1.45v47.05h-1.45zM125.00 2414.86h1.45v38.39h-1.45zM126.83 2412.09h1.45v41.15h-1.45zM128.66 2395.92h1.45v57.32h-1.45zM130.49 2382.39h1.45v70.86h-1.45zM132.32 2404.78h1.45v48.46h-1.45zM134.15 2417.58h1.45v35.66h-1.45zM135.98 2415.52h1.45v37.72h-1.45zM137.81 2413.21h1.45v40.04h-1.45zM139.64 2412.77h1.45v40.48h-1.45zM141.47 2411.29h1.45v41.95h-1.45zM143.30 2405.56h1.45v47.68h-1.45zM145.13 2418.93h1.45v34.32h-1.45zM146.96 2401.95h1.45v51.30h-1.45zM148.79 2404.22h1.45v49.02h-1.45zM150.62 2407.69h1.45v45.55h-1.45zM152.45 2409.63h1.45v43.61h-1.45zM154.28 2437.03h1.45v16.22h-1.45zM156.11 2435.16h1.45v18.08h-1.45zM157.94 2428.72h1.45v24.53h-1.45zM159.77 2410.54h1.45v42.70h-1.45zM161.60 2393.53h1.45v59.71h-1.45zM163.43 2384.02h1.45v69.22h-1.45zM165.26 2378.94h1.45v74.30h-1.45zM167.09 2402.25h1.45v51.00h-1.45zM168.92 2412.22h1.45v41.02h-1.45zM170.75 2428.70h1.45v24.55h-1.45zM172.58 2450.42h1.45v2.82h-1.45zM174.41 2453.25h1.45v4.52h-1.45zM176.24 2453.25h1.45v25.45h-1.45zM178.07 2453.25h1.45v26.80h-1.45zM179.90 2453.25h1.45v23.27h-1.45zM181.73 2453.25h1.45v13.73h-1.45zM183.56 2453.25h1.45v19.66h-1.45zM185.39 2453.25h1.45v22.90h-1.45zM187.22 2453.25h1.45v23.22h-1.45zM189.05 2453.25h1.45v31.16h-1.45zM190.88 2438.51h1.45v14.73h-1.45zM192.71 2425.27h1.45v27.97h-1.45zM194.54 2418.47h1.45v34.77h-1.45zM196.37 2427.57h1.45v25.67h-1.45zM198.20 2426.12h1.45v27.12h-1.45zM200.03 2453.25h1.45v4.11h-1.45zM201.86 2453.25h1.45v1.52h-1.45zM203.69 2438.49h1.45v14.75h-1.45zM205.52 2435.61h1.45v17.64h-1.45zM207.35 2441.06h1.45v12.19h-1.45zM209.18 2443.07h1.45v10.17h-1.45zM211.01 2418.60h1.45v34.64h-1.45zM212.84 2410.85h1.45v42.40h-1.45zM214.67 2410.94h1.45v42.31h-1.45zM216.50 2420.89h1.45v32.35h-1.45zM218.33 2453.25h1.45v2.76h-1.45zM220.16 2453.25h1.45v31.90h-1.45zM221.99 2453.25h1.45v38.34h-1.45zM223.82 2453.25h1.45v45.30h-1.45zM225.65 2453.25h1.45v50.48h-1.45zM227.48 2453.25h1.45v60.68h-1.45zM229.31 2453.25h1.45v47.44h-1.45zM231.14 2453.25h1.45v36.73h-1.45zM232.97 2453.25h1.45v36.74h-1.45zM234.80 2453.25h1.45v28.64h-1.45zM236.63 2453.25h1.45v43.26h-1.45zM238.46 2453.25h1.45v34.33h-1.45zM240.29 2453.25h1.45v40.75h-1.45zM242.12 2453.25h1.45v17.68h-1.45zM243.95 2453.25h1.45v5.08h-1.45zM245.78 2453.25h1.45v18.87h-1.45zM247.61 2453.25h1.45v35.58h-1.45zM249.44 2453.25h1.45v38.58h-1.45zM251.27 2453.25h1.45v57.06h-1.45zM253.10 2453.25h1.45v0.37h-1.45zM254.93 2426.36h1.45v26.88h-1.45zM256.76 2417.12h1.45v36.13h-1.45zM258.59 2398.23h1.45v55.02h-1.45zM260.42 2365.86h1.45v87.39h-1.45zM262.25 2358.39h1.45v94.85h-1.45zM264.08 2352.41h1.45v100.84h-1.45zM265.91 2318.85h1.45v134.39h-1.45zM267.74 2339.29h1.45v113.96h-1.45zM269.57 2321.09h1.45v132.15h-1.45zM271.40 2313.12h1.45v140.12h-1.45zM273.23 2293.27h1.45v159.98h-1.45zM275.06 2288.63h1.45v164.62h-1.45zM276.89 2286.23h1.45v167.01h-1.45zM278.72 2315.07h1.45v138.17h-1.45zM280.55 2306.12h1.45v147.13h-1.45zM282.38 2312.70h1.45v140.54h-1.45zM284.21 2300.84h1.45v152.40h-1.45zM286.04 2310.01h1.45v143.24h-1.45zM287.87 2357.90h1.45v95.35h-1.45zM289.70 2363.65h1.45v89.60h-1.45zM291.53 2339.14h1.45v114.10h-1.45zM293.36 2319.77h1.45v133.47h-1.45zM295.19 2290.54h1.45v162.71h-1.45zM297.02 2274.94h1.45v178.31h-1.45zM298.85 2283.93h1.45v169.31h-1.45zM300.68 2306.14h1.45v147.10h-1.45zM302.51 2302.13h1.45v151.12h-1.45zM304.34 2333.68h1.45v119.56h-1.45zM306.17 2339.00h1.45v114.24h-1.45zM308.00 2331.27h1.45v121.98h-1.45zM309.83 2348.51h1.45v104.74h-1.45zM311.66 2374.40h1.45v78.84h-1.45zM313.49 2385.76h1.45v67.48h-1.45zM315.32 2391.40h1.45v61.85h-1.45zM317.15 2400.57h1.45v52.68h-1.45zM318.98 2369.87h1.45v83.37h-1.45zM320.81 2354.89h1.45v98.36h-1.45zM322.64 2340.55h1.45v112.70h-1.45zM324.47 2333.26h1.45v119.99h-1.45zM326.30 2348.23h1.45v105.01h-1.45zM328.13 2338.03h1.45v115.22h-1.45zM329.96 2349.39h1.45v103.86h-1.45zM331.79 2335.48h1.45v117.77h-1.45zM333.62 2379.39h1.45v73.86h-1.45zM335.45 2387.08h1.45v66.17h-1.45zM337.28 2411.68h1.45v41.56h-1.45zM339.11 2422.15h1.45v31.09h-1.45zM340.94 2386.72h1.45v66.52h-1.45zM342.77 2388.71h1.45v64.53h-1.45zM344.60 2376.48h1.45v76.77h-1.45zM346.43 2363.26h1.45v89.99h-1.45zM348.26 2375.73h1.45v77.51h-1.45zM350.09 2388.65h1.45v64.60h-1.45zM351.92 2390.60h1.45v62.65h-1.45zM353.75 2346.84h1.45v106.41h-1.45zM355.58 2334.77h1.45v118.48h-1.45zM357.41 2343.61h1.45v109.63h-1.45zM359.24 2349.44h1.45v103.81h-1.45zM361.07 2367.57h1.45v85.68h-1.45zM362.90 2377.66h1.45v75.59h-1.45zM364.73 2374.85h1.45v78.39h-1.45zM366.56 2330.05h1.45v123.19h-1.45zM368.39 2329.25h1.45v123.99h-1.45zM370.22 2384.44h1.45v68.81h-1.45zM372.05 2373.32h1.45v79.93h-1.45zM373.88 2377.49h1.45v75.75h-1.45zM375.71 2404.26h1.45v48.98h-1.45zM377.54 2410.60h1.45v42.64h-1.45zM379.37 2433.74h1.45v19.51h-1.45zM381.20 2417.30h1.45v35.94h-1.45zM383.03 2451.17h1.45v2.07h-1.45zM384.86 2453.25h1.45v7.75h-1.45zM386.69 2426.91h1.45v26.34h-1.45zM388.52 2435.28h1.45v17.97h-1.45zM390.35 2453.25h1.45v9.03h-1.45zM392.18 2453.25h1.45v26.58h-1.45zM394.01 2453.25h1.45v22.97h-1.45zM395.84 2453.25h1.45v23.50h-1.45zM397.67 2453.25h1.45v81.76h-1.45zM399.50 2453.25h1.45v11.24h-1.45zM401.33 2453.25h1.45v18.83h-1.45zM403.16 2453.25h1.45v6.75h-1.45zM404.99 2422.30h1.45v30.95h-1.45zM406.82 2404.49h1.45v48.75h-1.45zM408.65 2389.66h1.45v63.58h-1.45zM410.48 2393.13h1.45v60.12h-1.45zM412.31 2388.66h1.45v64.59h-1.45zM414.14 2404.25h1.45v48.99h-1.45zM415.97 2418.46h1.45v34.78h-1.45zM417.80 2409.60h1.45v43.65h-1.45zM419.63 2399.29h1.45v53.95h-1.45zM421.46 2386.33h1.45v66.91h-1.45zM423.29 2368.18h1.45v85.07h-1.45zM425.12 2374.35h1.45v78.90h-1.45zM426.95 2376.98h1.45v76.27h-1.45zM428.78 2366.82h1.45v86.42h-1.45zM430.61 2365.53h1.45v87.71h-1.45zM432.44 2372.58h1.45v80.66h-1.45zM434.27 2376.14h1.45v77.10h-1.45zM436.10 2375.59h1.45v77.66h-1.45zM437.93 2379.55h1.45v73.70h-1.45zM439.76 2393.72h1.45v59.53h-1.45zM441.59 2392.50h1.45v60.74h-1.45zM443.42 2395.76h1.45v57.49h-1.45zM445.25 2412.34h1.45v40.90h-1.45zM447.08 2418.67h1.45v34.57h-1.45zM448.91 2427.84h1.45v25.40h-1.45zM450.74 2441.14h1.45v12.10h-1.45zM452.57 2452.05h1.45v1.19h-1.45zM454.40 2453.25h1.45v5.47h-1.45zM456.23 2445.32h1.45v7.93h-1.45zM458.06 2412.71h1.45v40.53h-1.45zM459.89 2401.78h1.45v51.47h-1.45zM461.72 2417.57h1.45v35.67h-1.45zM463.55 2429.26h1.45v23.99h-1.45zM465.38 2436.26h1.45v16.99h-1.45zM467.21 2435.59h1.45v17.65h-1.45zM469.04 2448.56h1.45v4.68h-1.45zM470.87 2453.25h1.45v2.84h-1.45zM472.70 2447.36h1.45v5.89h-1.45zM474.53 2432.42h1.45v20.82h-1.45zM476.36 2404.20h1.45v49.05h-1.45zM478.19 2393.78h1.45v59.47h-1.45zM480.02 2375.36h1.45v77.89h-1.45zM481.85 2361.31h1.45v91.93h-1.45zM483.68 2363.19h1.45v90.06h-1.45zM485.51 2340.26h1.45v112.99h-1.45zM487.34 2352.13h1.45v101.12h-1.45zM489.17 2347.21h1.45v106.04h-1.45zM491.00 2342.09h1.45v111.15h-1.45zM492.83 2427.71h1.45v25.53h-1.45zM494.66 2416.09h1.45v37.15h-1.45zM496.49 2397.40h1.45v55.85h-1.45zM498.32 2396.93h1.45v56.32h-1.45zM500.15 2393.55h1.45v59.70h-1.45zM501.98 2378.83h1.45v74.42h-1.45zM503.81 2352.37h1.45v100.87h-1.45zM505.64 2328.65h1.45v124.59h-1.45zM507.47 2325.48h1.45v127.76h-1.45zM509.30 2335.23h1.45v118.01h-1.45zM511.13 2290.26h1.45v162.99h-1.45zM512.96 2288.94h1.45v164.31h-1.45zM514.79 2294.12h1.45v159.13h-1.45zM516.62 2274.11h1.45v179.13h-1.45zM518.45 2267.79h1.45v185.46h-1.45zM520.28 2317.13h1.45v136.12h-1.45zM522.11 2318.50h1.45v134.75h-1.45zM523.94 2292.54h1.45v160.71h-1.45zM525.77 2324.79h1.45v128.45h-1.45zM527.60 2387.73h1.45v65.51h-1.45zM529.43 2346.76h1.45v106.49h-1.45zM531.26 2307.59h1.45v145.66h-1.45zM533.09 2287.11h1.45v166.14h-1.45zM534.92 2349.55h1.45v103.70h-1.45zM536.75 2361.25h1.45v92.00h-1.45zM538.58 2375.91h1.45v77.34h-1.45zM540.41 2453.25h1.45v13.14h-1.45zM542.24 2453.25h1.45v76.50h-1.45zM544.07 2453.25h1.45v106.47h-1.45zM545.90 2453.25h1.45v96.11h-1.45z" fill="#4e77a9"/><polyline points="107.9,2513.1 111.3,2490.9 113.6,2475.5 117.5,2473.6 120.5,2462.1 124.0,2489.0 127.8,2481.3 130.5,2456.3 133.6,2448.7 136.6,2464.0 140.5,2459.4 144.3,2448.7 147.0,2471.7 150.8,2458.3 154.7,2469.8 158.5,2481.3 162.4,2465.9 166.2,2437.2 168.9,2439.1 171.9,2454.4 173.9,2437.2 177.7,2439.1 180.4,2429.5 183.5,2398.8 187.3,2385.4 191.1,2398.8 193.0,2396.9 196.9,2356.6 199.9,2333.6 201.9,2299.1 204.6,2289.5 206.5,2306.7 208.4,2287.5 212.2,2345.1 216.1,2331.7 219.9,2308.6 223.7,2325.9 227.6,2297.1 231.4,2276.0 234.3,2271.3 237.2,2264.5 241.0,2263.8 242.9,2279.1 246.8,2270.3 250.6,2254.9 254.4,2279.9 256.3,2301.0 260.2,2304.8 262.1,2331.7 264.8,2335.5 267.9,2354.7 271.7,2352.8 275.5,2383.5 277.4,2387.3 281.3,2404.6 284.0,2371.9 287.8,2391.1 290.9,2389.2 293.8,2406.8 296.6,2425.7 300.5,2391.1 304.3,2360.4 308.1,2339.3 312.0,2329.0 315.8,2333.6 319.6,2345.1 320.0,2352.8 323.8,2383.5 325.8,2437.2 327.7,2454.4 329.6,2456.3 331.5,2452.5 333.4,2444.8 337.3,2421.8 339.2,2418.0 341.1,2452.5 343.0,2467.9 344.9,2471.7 346.9,2475.5 348.8,2464.0 350.7,2464.0 352.6,2479.4 356.4,2502.4 360.3,2515.8 363.0,2512.0 366.0,2536.9 368.0,2544.6 371.8,2533.1 373.7,2533.1 375.6,2506.2 379.5,2487.0 383.3,2471.7 385.2,2485.1 389.1,2490.9 392.9,2483.2 396.7,2485.1 400.6,2483.2 403.6,2544.6 406.3,2536.9 410.2,2529.2 414.0,2521.6 415.9,2529.2 419.0,2548.4 422.8,2559.9 426.6,2554.2 429.0,2548.9 431.3,2544.6 435.1,2529.2 438.9,2521.6 442.8,2510.1 446.6,2502.4 450.4,2498.5 454.3,2494.7 458.1,2483.2 461.9,2483.2 465.8,2492.8 469.6,2510.1 473.5,2515.8 477.3,2510.1 481.1,2525.4 484.0,2534.6 486.9,2542.7 490.7,2533.1 494.6,2510.1 498.4,2504.3 502.2,2500.5 506.1,2490.9 509.9,2487.0 513.7,2485.1 517.6,2479.4 521.4,2475.5 525.2,2471.7 529.1,2477.4 531.0,2471.7 532.9,2559.9 536.8,2561.8 540.6,2544.6 544.4,2529.2 546.3,2525.4" fill="none" stroke="#ff6a3a" stroke-width="1.5" stroke-linejoin="round"/><path d="M729.80 2385.27h1.45v30.77h-1.45zM731.63 2372.19h1.45v43.85h-1.45zM733.46 2365.26h1.45v50.78h-1.45zM735.29 2386.09h1.45v29.95h-1.45zM737.12 2374.76h1.45v41.28h-1.45zM738.95 2368.79h1.45v47.25h-1.45zM740.78 2336.38h1.45v79.66h-1.45zM742.61 2334.25h1.45v81.79h-1.45zM744.44 2368.78h1.45v47.25h-1.45zM746.27 2395.25h1.45v20.79h-1.45zM748.10 2390.53h1.45v25.51h-1.45zM749.93 2380.59h1.45v35.44h-1.45zM751.76 2376.76h1.45v39.28h-1.45zM753.59 2362.98h1.45v53.06h-1.45zM755.42 2356.01h1.45v60.03h-1.45zM757.25 2345.82h1.45v70.22h-1.45zM759.08 2314.98h1.45v101.06h-1.45zM760.91 2341.73h1.45v74.31h-1.45zM762.74 2364.76h1.45v51.27h-1.45zM764.57 2357.55h1.45v58.49h-1.45zM766.40 2335.63h1.45v80.40h-1.45zM768.23 2365.03h1.45v51.01h-1.45zM770.06 2365.49h1.45v50.55h-1.45zM771.89 2373.91h1.45v42.12h-1.45zM773.72 2373.39h1.45v42.65h-1.45zM775.55 2356.24h1.45v59.80h-1.45zM777.38 2383.11h1.45v32.93h-1.45zM779.21 2373.00h1.45v43.04h-1.45zM781.04 2367.07h1.45v48.97h-1.45zM782.87 2351.47h1.45v64.56h-1.45zM784.70 2332.59h1.45v83.45h-1.45zM786.53 2323.85h1.45v92.19h-1.45zM788.36 2306.69h1.45v109.35h-1.45zM790.19 2309.76h1.45v106.28h-1.45zM792.02 2330.58h1.45v85.45h-1.45zM793.85 2308.59h1.45v107.45h-1.45zM795.68 2316.76h1.45v99.28h-1.45zM797.51 2320.74h1.45v95.30h-1.45zM799.34 2321.07h1.45v94.97h-1.45zM801.17 2329.92h1.45v86.12h-1.45zM803.00 2316.60h1.45v99.44h-1.45zM804.83 2298.50h1.45v117.54h-1.45zM806.66 2272.95h1.45v143.09h-1.45zM808.49 2289.11h1.45v126.92h-1.45zM810.32 2271.16h1.45v144.88h-1.45zM812.15 2271.88h1.45v144.16h-1.45zM813.98 2323.29h1.45v92.74h-1.45zM815.81 2303.11h1.45v112.92h-1.45zM817.64 2285.27h1.45v130.77h-1.45zM819.47 2288.54h1.45v127.50h-1.45zM821.30 2326.33h1.45v89.70h-1.45zM823.13 2341.83h1.45v74.20h-1.45zM824.96 2340.42h1.45v75.62h-1.45zM826.79 2341.54h1.45v74.50h-1.45zM828.62 2331.44h1.45v84.60h-1.45zM830.45 2346.15h1.45v69.89h-1.45zM832.28 2338.80h1.45v77.24h-1.45zM834.11 2321.48h1.45v94.56h-1.45zM835.94 2301.12h1.45v114.91h-1.45zM837.77 2317.04h1.45v99.00h-1.45zM839.60 2297.61h1.45v118.42h-1.45zM841.43 2310.44h1.45v105.59h-1.45zM843.26 2339.62h1.45v76.42h-1.45zM845.09 2328.44h1.45v87.60h-1.45zM846.92 2305.17h1.45v110.87h-1.45zM848.75 2326.45h1.45v89.59h-1.45zM850.58 2324.66h1.45v91.38h-1.45zM852.41 2330.43h1.45v85.61h-1.45zM854.24 2322.28h1.45v93.76h-1.45zM856.07 2296.14h1.45v119.89h-1.45zM857.90 2290.97h1.45v125.07h-1.45zM859.73 2303.99h1.45v112.05h-1.45zM861.56 2295.62h1.45v120.42h-1.45zM863.39 2301.79h1.45v114.25h-1.45zM865.22 2316.97h1.45v99.07h-1.45zM867.05 2328.80h1.45v87.24h-1.45zM868.88 2329.19h1.45v86.85h-1.45zM870.71 2317.71h1.45v98.32h-1.45zM872.54 2322.25h1.45v93.78h-1.45zM874.37 2287.24h1.45v128.80h-1.45zM876.20 2336.99h1.45v79.05h-1.45zM878.03 2400.66h1.45v15.38h-1.45zM879.86 2374.73h1.45v41.30h-1.45zM881.69 2359.62h1.45v56.42h-1.45zM883.52 2351.04h1.45v65.00h-1.45zM885.35 2352.80h1.45v63.24h-1.45zM887.18 2323.54h1.45v92.50h-1.45zM889.01 2316.89h1.45v99.15h-1.45zM890.84 2330.14h1.45v85.90h-1.45zM892.67 2321.83h1.45v94.21h-1.45zM894.50 2299.57h1.45v116.47h-1.45zM896.33 2307.22h1.45v108.82h-1.45zM898.16 2270.26h1.45v145.78h-1.45zM899.99 2308.66h1.45v107.38h-1.45zM901.82 2321.63h1.45v94.40h-1.45zM903.65 2300.57h1.45v115.47h-1.45zM905.48 2290.39h1.45v125.64h-1.45zM907.31 2302.54h1.45v113.50h-1.45zM909.14 2325.60h1.45v90.44h-1.45zM910.97 2342.40h1.45v73.64h-1.45zM912.80 2342.96h1.45v73.08h-1.45zM914.63 2367.84h1.45v48.20h-1.45zM916.46 2383.75h1.45v32.28h-1.45zM918.29 2401.51h1.45v14.52h-1.45zM920.12 2403.26h1.45v12.78h-1.45zM921.95 2388.71h1.45v27.32h-1.45zM923.78 2398.10h1.45v17.94h-1.45zM925.61 2390.83h1.45v25.21h-1.45zM927.44 2371.70h1.45v44.34h-1.45zM929.27 2374.59h1.45v41.45h-1.45zM931.10 2377.14h1.45v38.90h-1.45zM932.93 2388.24h1.45v27.79h-1.45zM934.76 2408.00h1.45v8.04h-1.45zM936.59 2416.04h1.45v0.65h-1.45zM938.42 2416.04h1.45v8.33h-1.45zM940.25 2416.04h1.45v39.23h-1.45zM942.08 2416.04h1.45v43.30h-1.45zM943.91 2416.04h1.45v54.26h-1.45zM945.74 2416.04h1.45v48.87h-1.45zM947.57 2416.04h1.45v42.95h-1.45zM949.40 2416.04h1.45v32.35h-1.45zM951.23 2416.04h1.45v54.96h-1.45zM953.06 2416.04h1.45v47.45h-1.45zM954.89 2416.04h1.45v39.08h-1.45zM956.72 2416.04h1.45v33.60h-1.45zM958.55 2416.04h1.45v26.22h-1.45zM960.38 2416.04h1.45v16.96h-1.45zM962.21 2416.04h1.45v16.41h-1.45zM964.04 2416.04h1.45v26.92h-1.45zM965.87 2416.04h1.45v42.12h-1.45zM967.70 2416.04h1.45v38.57h-1.45zM969.53 2416.04h1.45v33.35h-1.45zM971.36 2416.04h1.45v20.65h-1.45zM973.19 2416.04h1.45v21.74h-1.45zM975.02 2416.04h1.45v25.05h-1.45zM976.85 2416.04h1.45v32.87h-1.45zM978.68 2416.04h1.45v37.58h-1.45zM980.51 2416.04h1.45v57.01h-1.45zM982.34 2416.04h1.45v63.82h-1.45zM984.17 2416.04h1.45v72.86h-1.45zM986.00 2416.04h1.45v96.01h-1.45zM987.83 2416.04h1.45v88.53h-1.45zM989.66 2416.04h1.45v55.62h-1.45zM991.49 2416.04h1.45v81.17h-1.45zM993.32 2416.04h1.45v54.34h-1.45zM995.15 2416.04h1.45v55.85h-1.45zM996.98 2416.04h1.45v69.63h-1.45zM998.81 2416.04h1.45v77.12h-1.45zM1000.64 2416.04h1.45v83.15h-1.45zM1002.47 2416.04h1.45v97.98h-1.45zM1004.30 2416.04h1.45v113.16h-1.45zM1006.13 2416.04h1.45v95.50h-1.45zM1007.96 2416.04h1.45v122.27h-1.45zM1009.79 2416.04h1.45v134.81h-1.45zM1011.62 2416.04h1.45v129.64h-1.45zM1013.45 2416.04h1.45v100.50h-1.45zM1015.28 2416.04h1.45v91.65h-1.45zM1017.11 2416.04h1.45v89.49h-1.45zM1018.94 2416.04h1.45v91.46h-1.45zM1020.77 2416.04h1.45v74.79h-1.45zM1022.60 2416.04h1.45v80.53h-1.45zM1024.43 2416.04h1.45v58.64h-1.45zM1026.26 2409.72h1.45v6.32h-1.45zM1028.09 2386.51h1.45v29.53h-1.45zM1029.92 2371.74h1.45v44.29h-1.45zM1031.75 2367.34h1.45v48.69h-1.45zM1033.58 2366.31h1.45v49.73h-1.45zM1035.41 2381.34h1.45v34.70h-1.45zM1037.24 2416.04h1.45v0.06h-1.45zM1039.07 2416.04h1.45v17.47h-1.45zM1040.90 2416.04h1.45v38.58h-1.45zM1042.73 2416.04h1.45v29.00h-1.45zM1044.56 2416.04h1.45v16.47h-1.45zM1046.39 2416.04h1.45v6.46h-1.45zM1048.22 2403.00h1.45v13.04h-1.45zM1050.05 2400.10h1.45v15.94h-1.45zM1051.88 2397.38h1.45v18.66h-1.45zM1053.71 2393.67h1.45v22.37h-1.45zM1055.54 2409.39h1.45v6.65h-1.45zM1057.37 2416.04h1.45v12.37h-1.45zM1059.20 2416.04h1.45v23.32h-1.45zM1061.03 2416.04h1.45v23.59h-1.45zM1062.86 2416.04h1.45v25.27h-1.45zM1064.69 2416.04h1.45v27.10h-1.45zM1066.52 2416.04h1.45v28.88h-1.45zM1068.35 2416.04h1.45v23.06h-1.45zM1070.18 2416.04h1.45v29.36h-1.45zM1072.01 2416.04h1.45v26.69h-1.45zM1073.84 2416.04h1.45v21.21h-1.45zM1075.67 2416.04h1.45v15.09h-1.45zM1077.50 2416.04h1.45v19.52h-1.45zM1079.33 2416.04h1.45v14.02h-1.45zM1081.16 2408.62h1.45v7.42h-1.45zM1082.99 2416.04h1.45v19.30h-1.45zM1084.82 2373.16h1.45v42.87h-1.45zM1086.65 2347.41h1.45v68.63h-1.45zM1088.48 2360.69h1.45v55.35h-1.45zM1090.31 2352.40h1.45v63.64h-1.45zM1092.14 2348.91h1.45v67.13h-1.45zM1093.97 2335.98h1.45v80.06h-1.45zM1095.80 2367.35h1.45v48.68h-1.45zM1097.63 2367.77h1.45v48.27h-1.45zM1099.46 2358.37h1.45v57.67h-1.45zM1101.29 2344.99h1.45v71.05h-1.45zM1103.12 2356.63h1.45v59.41h-1.45zM1104.95 2368.50h1.45v47.54h-1.45zM1106.78 2403.61h1.45v12.43h-1.45zM1108.61 2416.04h1.45v6.20h-1.45zM1110.44 2416.04h1.45v19.69h-1.45zM1112.27 2416.04h1.45v8.30h-1.45zM1114.10 2416.04h1.45v13.96h-1.45zM1115.93 2416.04h1.45v5.75h-1.45zM1117.76 2416.04h1.45v4.28h-1.45zM1119.59 2416.04h1.45v4.74h-1.45zM1121.42 2416.04h1.45v0.28h-1.45zM1123.25 2395.43h1.45v20.61h-1.45zM1125.08 2416.04h1.45v17.18h-1.45zM1126.91 2416.04h1.45v22.46h-1.45zM1128.74 2416.04h1.45v20.87h-1.45zM1130.57 2401.83h1.45v14.21h-1.45zM1132.40 2391.64h1.45v24.40h-1.45zM1134.23 2380.65h1.45v35.39h-1.45zM1136.06 2378.58h1.45v37.46h-1.45zM1137.89 2387.69h1.45v28.35h-1.45zM1139.72 2404.17h1.45v11.87h-1.45zM1141.55 2413.83h1.45v2.21h-1.45zM1143.38 2416.04h1.45v1.15h-1.45zM1145.21 2416.04h1.45v3.56h-1.45zM1147.04 2416.04h1.45v21.94h-1.45zM1148.87 2416.04h1.45v25.45h-1.45zM1150.70 2416.04h1.45v20.23h-1.45zM1152.53 2416.04h1.45v24.27h-1.45zM1154.36 2416.04h1.45v32.20h-1.45zM1156.19 2416.04h1.45v31.80h-1.45zM1158.02 2416.04h1.45v26.54h-1.45zM1159.85 2416.04h1.45v54.01h-1.45zM1161.68 2416.04h1.45v47.74h-1.45zM1163.51 2416.04h1.45v13.94h-1.45zM1165.34 2347.48h1.45v68.56h-1.45zM1167.17 2342.19h1.45v73.85h-1.45zM1169.00 2359.65h1.45v56.38h-1.45z" fill="#4e77a9"/><polyline points="730.6,2464.8 733.6,2458.3 736.3,2452.5 738.2,2460.2 741.3,2450.6 744.0,2442.9 745.9,2460.2 747.8,2479.4 751.7,2479.4 755.5,2448.7 758.2,2433.3 761.3,2439.1 765.1,2433.3 768.2,2444.8 770.8,2467.9 774.7,2465.9 778.5,2473.6 782.4,2469.8 786.2,2462.1 790.0,2452.5 793.9,2460.2 797.7,2439.1 801.5,2435.2 805.4,2410.3 809.2,2395.0 813.0,2402.6 816.9,2421.8 820.7,2385.4 824.6,2345.1 828.4,2333.6 832.2,2347.0 836.1,2381.5 839.9,2362.4 841.8,2356.6 845.7,2375.8 849.5,2345.1 853.3,2322.1 856.2,2305.5 859.1,2287.5 862.9,2281.8 866.8,2295.2 870.6,2268.4 874.4,2254.9 877.1,2276.0 880.2,2304.8 884.0,2329.7 887.9,2358.5 891.7,2371.9 895.5,2383.5 899.4,2402.6 903.2,2410.3 907.0,2383.5 910.9,2402.6 914.7,2391.1 918.5,2425.7 921.6,2425.7 923.9,2406.3 926.2,2387.3 929.1,2368.4 932.0,2350.8 935.8,2345.1 939.6,2352.8 940.0,2352.8 943.8,2375.8 946.9,2410.3 949.6,2452.5 951.5,2467.9 955.3,2465.9 959.2,2439.1 962.3,2431.4 964.9,2448.7 966.9,2464.0 970.7,2475.5 974.5,2460.2 978.4,2490.9 982.2,2506.2 984.1,2527.3 988.0,2521.6 991.8,2538.8 995.6,2525.4 999.5,2506.2 1003.3,2479.4 1007.1,2475.5 1011.0,2483.2 1014.8,2469.8 1018.6,2477.4 1022.5,2467.9 1026.3,2479.4 1030.2,2533.1 1034.0,2529.2 1035.9,2521.6 1039.7,2540.7 1043.6,2559.9 1047.4,2556.1 1051.3,2552.3 1055.1,2536.9 1058.9,2529.2 1062.8,2517.7 1066.6,2506.2 1070.4,2506.2 1074.3,2498.5 1078.1,2498.5 1081.9,2483.2 1085.8,2502.4 1089.6,2510.1 1093.5,2525.4 1097.3,2529.2 1101.1,2533.1 1105.0,2540.7 1108.8,2559.9 1112.6,2558.0 1116.5,2536.9 1120.3,2525.4 1124.1,2521.6 1128.0,2506.2 1131.8,2504.3 1135.7,2510.1 1139.5,2512.0 1143.3,2498.5 1147.2,2490.9 1151.0,2498.5 1154.8,2494.7 1158.7,2487.0 1162.5,2467.9 1166.3,2475.5 1169.0,2483.2" fill="none" stroke="#ff6a3a" stroke-width="1.5" stroke-linejoin="round"/><text transform="translate(80.6,2249.64) scale(0.88,1)" text-anchor="end" font-family="Liberation Sans" font-size="14" fill="#262626">6000</text><text transform="translate(80.6,2319.44) scale(0.88,1)" text-anchor="end" font-family="Liberation Sans" font-size="14" fill="#262626">4000</text><text transform="translate(80.6,2389.24) scale(0.88,1)" text-anchor="end" font-family="Liberation Sans" font-size="14" fill="#262626">2000</text><text transform="translate(80.6,2458.24) scale(0.88,1)" text-anchor="end" font-family="Liberation Sans" font-size="14" fill="#262626">0</text><text transform="translate(80.6,2528.44) scale(0.88,1)" text-anchor="end" font-family="Liberation Sans" font-size="14" fill="#262626">−2000</text><text transform="translate(600.2,2273.44) scale(0.88,1)" text-anchor="end" font-family="Liberation Sans" font-size="14" fill="#262626">3200</text><text transform="translate(600.2,2315.64) scale(0.88,1)" text-anchor="end" font-family="Liberation Sans" font-size="14" fill="#262626">3000</text><text transform="translate(600.2,2357.74) scale(0.88,1)" text-anchor="end" font-family="Liberation Sans" font-size="14" fill="#262626">2800</text><text transform="translate(600.2,2400.04) scale(0.88,1)" text-anchor="end" font-family="Liberation Sans" font-size="14" fill="#262626">2600</text><text transform="translate(600.2,2442.14) scale(0.88,1)" text-anchor="end" font-family="Liberation Sans" font-size="14" fill="#262626">2400</text><text transform="translate(600.2,2484.34) scale(0.88,1)" text-anchor="end" font-family="Liberation Sans" font-size="14" fill="#262626">2200</text><text transform="translate(600.2,2526.54) scale(0.88,1)" text-anchor="end" font-family="Liberation Sans" font-size="14" fill="#262626">2000</text><text transform="translate(600.2,2568.74) scale(0.88,1)" text-anchor="end" font-family="Liberation Sans" font-size="14" fill="#262626">1800</text><text transform="translate(703.7,2283.04) scale(0.88,1)" text-anchor="end" font-family="Liberation Sans" font-size="14" fill="#262626">3000</text><text transform="translate(703.7,2329.04) scale(0.88,1)" text-anchor="end" font-family="Liberation Sans" font-size="14" fill="#262626">2000</text><text transform="translate(703.7,2375.04) scale(0.88,1)" text-anchor="end" font-family="Liberation Sans" font-size="14" fill="#262626">1000</text><text transform="translate(703.7,2421.04) scale(0.88,1)" text-anchor="end" font-family="Liberation Sans" font-size="14" fill="#262626">0</text><text transform="translate(703.7,2467.04) scale(0.88,1)" text-anchor="end" font-family="Liberation Sans" font-size="14" fill="#262626">−1000</text><text transform="translate(703.7,2513.94) scale(0.88,1)" text-anchor="end" font-family="Liberation Sans" font-size="14" fill="#262626">−2000</text><text transform="translate(703.7,2559.94) scale(0.88,1)" text-anchor="end" font-family="Liberation Sans" font-size="14" fill="#262626">−3000</text><text transform="translate(1223.2,2256.14) scale(0.88,1)" text-anchor="end" font-family="Liberation Sans" font-size="14" fill="#262626">4250</text><text transform="translate(1223.2,2299.04) scale(0.88,1)" text-anchor="end" font-family="Liberation Sans" font-size="14" fill="#262626">4000</text><text transform="translate(1223.2,2341.64) scale(0.88,1)" text-anchor="end" font-family="Liberation Sans" font-size="14" fill="#262626">3750</text><text transform="translate(1223.2,2384.64) scale(0.88,1)" text-anchor="end" font-family="Liberation Sans" font-size="14" fill="#262626">3500</text><text transform="translate(1223.2,2426.84) scale(0.88,1)" text-anchor="end" font-family="Liberation Sans" font-size="14" fill="#262626">3250</text><text transform="translate(1223.2,2469.84) scale(0.88,1)" text-anchor="end" font-family="Liberation Sans" font-size="14" fill="#262626">3000</text><text transform="translate(1223.2,2512.04) scale(0.88,1)" text-anchor="end" font-family="Liberation Sans" font-size="14" fill="#262626">2750</text><text transform="translate(1223.2,2554.94) scale(0.88,1)" text-anchor="end" font-family="Liberation Sans" font-size="14" fill="#262626">2500</text><text transform="translate(137.0,2592) scale(0.92,1) rotate(-45)" text-anchor="end" font-family="Liberation Sans" font-size="13" fill="#262626">2022–01–10</text><text transform="translate(760.0,2592) scale(0.92,1) rotate(-45)" text-anchor="end" font-family="Liberation Sans" font-size="13" fill="#262626">2022–01–10</text><text transform="translate(190.9,2592) scale(0.92,1) rotate(-45)" text-anchor="end" font-family="Liberation Sans" font-size="13" fill="#262626">2022–02–28</text><text transform="translate(813.9,2592) scale(0.92,1) rotate(-45)" text-anchor="end" font-family="Liberation Sans" font-size="13" fill="#262626">2022–02–28</text><text transform="translate(244.8,2592) scale(0.92,1) rotate(-45)" text-anchor="end" font-family="Liberation Sans" font-size="13" fill="#262626">2022–04–13</text><text transform="translate(867.8,2592) scale(0.92,1) rotate(-45)" text-anchor="end" font-family="Liberation Sans" font-size="13" fill="#262626">2022–04–13</text><text transform="translate(298.7,2592) scale(0.92,1) rotate(-45)" text-anchor="end" font-family="Liberation Sans" font-size="13" fill="#262626">2022–05–30</text><text transform="translate(921.7,2592) scale(0.92,1) rotate(-45)" text-anchor="end" font-family="Liberation Sans" font-size="13" fill="#262626">2022–05–27</text><text transform="translate(352.6,2592) scale(0.92,1) rotate(-45)" text-anchor="end" font-family="Liberation Sans" font-size="13" fill="#262626">2022–07–11</text><text transform="translate(975.6,2592) scale(0.92,1) rotate(-45)" text-anchor="end" font-family="Liberation Sans" font-size="13" fill="#262626">2022–07–11</text><text transform="translate(406.5,2592) scale(0.92,1) rotate(-45)" text-anchor="end" font-family="Liberation Sans" font-size="13" fill="#262626">2022–08–22</text><text transform="translate(1029.5,2592) scale(0.92,1) rotate(-45)" text-anchor="end" font-family="Liberation Sans" font-size="13" fill="#262626">2022–08–22</text><text transform="translate(460.4,2592) scale(0.92,1) rotate(-45)" text-anchor="end" font-family="Liberation Sans" font-size="13" fill="#262626">2022–10–11</text><text transform="translate(1083.4,2592) scale(0.92,1) rotate(-45)" text-anchor="end" font-family="Liberation Sans" font-size="13" fill="#262626">2022–10–11</text><text transform="translate(514.3,2592) scale(0.92,1) rotate(-45)" text-anchor="end" font-family="Liberation Sans" font-size="13" fill="#262626">2022–11–22</text><text transform="translate(1137.3,2592) scale(0.92,1) rotate(-45)" text-anchor="end" font-family="Liberation Sans" font-size="13" fill="#262626">2022–11–22</text><polyline points="107.9,3083.1 144.3,3012.9 180.8,2983.4 217.2,2990.6 253.6,2991.0 290.1,2997.5 326.5,3011.0 362.9,3014.8 399.3,3030.1 435.8,3047.4 472.2,3037.1 508.6,3057.8 545.1,3058.9" fill="none" stroke="#b4ecf0" stroke-width="1.5" stroke-linejoin="round"/><polyline points="107.9,3123.0 144.3,3045.9 180.8,3055.1 217.2,3062.4 253.6,3051.2 290.1,3053.2 326.5,3060.8 362.9,3063.1 399.3,3063.1 435.8,3080.0 472.2,3085.8 508.6,3081.2 545.1,3088.5" fill="none" stroke="#6f94e6" stroke-width="1.5" stroke-linejoin="round"/><polyline points="107.9,3067.4 144.3,3012.9 180.8,3007.1 217.2,3025.5 253.6,3019.8 290.1,3008.3 326.5,3042.4 362.9,3053.2 399.3,3056.2 435.8,3048.2 472.2,3062.8 508.6,3132.9 545.1,3090.4" fill="none" stroke="#5a7090" stroke-width="1.5" stroke-linejoin="round"/><polyline points="107.9,2983.0 144.3,2824.9 180.8,2861.4 217.2,2910.5 253.6,2911.6 290.1,2915.1 326.5,2911.6 362.9,2936.9 399.3,2945.0 435.8,2918.1 472.2,2938.9 508.6,2945.0 545.1,2907.4" fill="none" stroke="#5f7896" stroke-width="1.5" stroke-linejoin="round"/><polyline points="107.9,3110.7 144.3,2970.7 180.8,2959.2 217.2,2956.5 253.6,2986.8 290.1,2982.2 326.5,2977.6 362.9,3001.4 399.3,3032.1 435.8,3000.2 472.2,3021.7 508.6,3029.4 545.1,3036.7" fill="none" stroke="#1ab5f0" stroke-width="1.5" stroke-linejoin="round"/><polyline points="107.9,3042.4 144.3,2966.9 180.8,2961.1 217.2,2964.9 253.6,2931.6 290.1,2964.9 326.5,2976.4 362.9,2980.3 399.3,2986.0 435.8,2998.3 472.2,2996.8 508.6,3009.8 545.1,3001.4" fill="none" stroke="#2525e0" stroke-width="1.5" stroke-linejoin="round"/><polyline points="730.6,3040.9 767.0,3012.9 803.5,2983.4 839.9,2990.6 876.3,2991.0 912.8,2997.5 949.2,3011.0 985.6,3014.8 1022.0,3030.1 1058.5,3047.4 1094.9,3037.1 1131.3,3057.8 1167.8,3058.9" fill="none" stroke="#b4ecf0" stroke-width="1.5" stroke-linejoin="round"/><polyline points="730.6,3040.9 767.0,3045.9 803.5,3055.1 839.9,3062.4 876.3,3051.2 912.8,3053.2 949.2,3060.8 985.6,3063.1 1022.0,3063.1 1058.5,3080.0 1094.9,3085.8 1131.3,3081.2 1167.8,3088.5" fill="none" stroke="#6f94e6" stroke-width="1.5" stroke-linejoin="round"/><polyline points="730.6,3000.6 767.0,3012.9 803.5,3007.1 839.9,3025.5 876.3,3019.8 912.8,3008.3 949.2,3042.4 985.6,3053.2 1022.0,3056.2 1058.5,3048.2 1094.9,3062.8 1131.3,3132.9 1167.8,3090.4" fill="none" stroke="#5a7090" stroke-width="1.5" stroke-linejoin="round"/><polyline points="730.6,2881.3 767.0,2824.9 803.5,2861.4 839.9,2910.5 876.3,2911.6 912.8,2915.1 949.2,2911.6 985.6,2936.9 1022.0,2945.0 1058.5,2918.1 1094.9,2938.9 1131.3,2945.0 1167.8,2907.4" fill="none" stroke="#5f7896" stroke-width="1.5" stroke-linejoin="round"/><polyline points="730.6,3061.6 767.0,2970.7 803.5,2959.2 839.9,2956.5 876.3,2986.8 912.8,2982.2 949.2,2977.6 985.6,3001.4 1022.0,3032.1 1058.5,3000.2 1094.9,3021.7 1131.3,3029.4 1167.8,3036.7" fill="none" stroke="#1ab5f0" stroke-width="1.5" stroke-linejoin="round"/><polyline points="730.6,3021.3 767.0,2966.9 803.5,2961.1 839.9,2964.9 876.3,2931.6 912.8,2964.9 949.2,2976.4 985.6,2980.3 1022.0,2986.0 1058.5,2998.3 1094.9,2996.8 1131.3,3009.8 1167.8,3001.4" fill="none" stroke="#2525e0" stroke-width="1.5" stroke-linejoin="round"/><text transform="translate(81.8,2848.24) scale(0.62,1)" text-anchor="end" font-family="Liberation Sans" font-size="11.5" fill="#262626">3600</text><text transform="translate(705.6,2848.24) scale(0.62,1)" text-anchor="end" font-family="Liberation Sans" font-size="11.5" fill="#262626">3600</text><text transform="translate(81.8,2887.74) scale(0.62,1)" text-anchor="end" font-family="Liberation Sans" font-size="11.5" fill="#262626">3400</text><text transform="translate(705.6,2887.74) scale(0.62,1)" text-anchor="end" font-family="Liberation Sans" font-size="11.5" fill="#262626">3400</text><text transform="translate(81.8,2927.64) scale(0.62,1)" text-anchor="end" font-family="Liberation Sans" font-size="11.5" fill="#262626">3200</text><text transform="translate(705.6,2927.64) scale(0.62,1)" text-anchor="end" font-family="Liberation Sans" font-size="11.5" fill="#262626">3200</text><text transform="translate(81.8,2967.94) scale(0.62,1)" text-anchor="end" font-family="Liberation Sans" font-size="11.5" fill="#262626">3000</text><text transform="translate(705.6,2967.94) scale(0.62,1)" text-anchor="end" font-family="Liberation Sans" font-size="11.5" fill="#262626">3000</text><text transform="translate(81.8,3008.14) scale(0.62,1)" text-anchor="end" font-family="Liberation Sans" font-size="11.5" fill="#262626">2800</text><text transform="translate(705.6,3008.14) scale(0.62,1)" text-anchor="end" font-family="Liberation Sans" font-size="11.5" fill="#262626">2800</text><text transform="translate(81.8,3047.74) scale(0.62,1)" text-anchor="end" font-family="Liberation Sans" font-size="11.5" fill="#262626">2600</text><text transform="translate(705.6,3047.74) scale(0.62,1)" text-anchor="end" font-family="Liberation Sans" font-size="11.5" fill="#262626">2600</text><text transform="translate(81.8,3088.04) scale(0.62,1)" text-anchor="end" font-family="Liberation Sans" font-size="11.5" fill="#262626">2400</text><text transform="translate(705.6,3088.04) scale(0.62,1)" text-anchor="end" font-family="Liberation Sans" font-size="11.5" fill="#262626">2400</text><text transform="translate(81.8,3128.24) scale(0.62,1)" text-anchor="end" font-family="Liberation Sans" font-size="11.5" fill="#262626">2200</text><text transform="translate(705.6,3128.24) scale(0.62,1)" text-anchor="end" font-family="Liberation Sans" font-size="11.5" fill="#262626">2200</text><text transform="translate(125.0,3162) scale(0.85,1) rotate(-45)" text-anchor="end" font-family="Liberation Sans" font-size="10.8" fill="#555">现货(日照港一级)</text><text transform="translate(748.0,3162) scale(0.85,1) rotate(-45)" text-anchor="end" font-family="Liberation Sans" font-size="10.8" fill="#555">现货(日照港一级)</text><text transform="translate(165.3,3162) scale(0.85,1) rotate(-45)" text-anchor="end" font-family="Liberation Sans" font-size="10.8" fill="#555">连一</text><text transform="translate(788.3,3162) scale(0.85,1) rotate(-45)" text-anchor="end" font-family="Liberation Sans" font-size="10.8" fill="#555">连一</text><text transform="translate(205.6,3162) scale(0.85,1) rotate(-45)" text-anchor="end" font-family="Liberation Sans" font-size="10.8" fill="#555">连二</text><text transform="translate(828.6,3162) scale(0.85,1) rotate(-45)" text-anchor="end" font-family="Liberation Sans" font-size="10.8" fill="#555">连二</text><text transform="translate(245.89999999999998,3162) scale(0.85,1) rotate(-45)" text-anchor="end" font-family="Liberation Sans" font-size="10.8" fill="#555">连三</text><text transform="translate(868.9,3162) scale(0.85,1) rotate(-45)" text-anchor="end" font-family="Liberation Sans" font-size="10.8" fill="#555">连三</text><text transform="translate(286.2,3162) scale(0.85,1) rotate(-45)" text-anchor="end" font-family="Liberation Sans" font-size="10.8" fill="#555">连四</text><text transform="translate(909.2,3162) scale(0.85,1) rotate(-45)" text-anchor="end" font-family="Liberation Sans" font-size="10.8" fill="#555">连四</text><text transform="translate(326.5,3162) scale(0.85,1) rotate(-45)" text-anchor="end" font-family="Liberation Sans" font-size="10.8" fill="#555">连五</text><text transform="translate(949.5,3162) scale(0.85,1) rotate(-45)" text-anchor="end" font-family="Liberation Sans" font-size="10.8" fill="#555">连五</text><text transform="translate(366.79999999999995,3162) scale(0.85,1) rotate(-45)" text-anchor="end" font-family="Liberation Sans" font-size="10.8" fill="#555">连六</text><text transform="translate(989.8,3162) scale(0.85,1) rotate(-45)" text-anchor="end" font-family="Liberation Sans" font-size="10.8" fill="#555">连六</text><text transform="translate(407.09999999999997,3162) scale(0.85,1) rotate(-45)" text-anchor="end" font-family="Liberation Sans" font-size="10.8" fill="#555">连七</text><text transform="translate(1030.1,3162) scale(0.85,1) rotate(-45)" text-anchor="end" font-family="Liberation Sans" font-size="10.8" fill="#555">连七</text><text transform="translate(447.4,3162) scale(0.85,1) rotate(-45)" text-anchor="end" font-family="Liberation Sans" font-size="10.8" fill="#555">连八</text><text transform="translate(1070.4,3162) scale(0.85,1) rotate(-45)" text-anchor="end" font-family="Liberation Sans" font-size="10.8" fill="#555">连八</text><text transform="translate(487.7,3162) scale(0.85,1) rotate(-45)" text-anchor="end" font-family="Liberation Sans" font-size="10.8" fill="#555">连九</text><text transform="translate(1110.7,3162) scale(0.85,1) rotate(-45)" text-anchor="end" font-family="Liberation Sans" font-size="10.8" fill="#555">连九</text><text transform="translate(528.0,3162) scale(0.85,1) rotate(-45)" text-anchor="end" font-family="Liberation Sans" font-size="10.8" fill="#555">连十</text><text transform="translate(1151.0,3162) scale(0.85,1) rotate(-45)" text-anchor="end" font-family="Liberation Sans" font-size="10.8" fill="#555">连十</text><polyline points="106.9,3600.5 116.3,3600.5 117.9,3623.1 125.7,3623.1 127.3,3624.9 141.4,3624.9 143.0,3623.1 160.2,3623.1 161.8,3624.9 168.0,3624.9 169.6,3610.5 180.6,3608.3 194.7,3610.5 196.2,3620.9 202.5,3620.9 204.1,3642.8 211.9,3642.8 213.5,3650.0 221.3,3650.0 222.9,3656.9 241.6,3656.9 243.2,3653.8 252.6,3653.8 254.2,3633.4 262.0,3633.4 263.6,3612.4 285.5,3612.4 287.1,3596.8 293.3,3596.8 294.9,3591.7 310.6,3591.7 313.7,3604.3 321.5,3604.3 323.1,3623.1 325.0,3623.1 329.7,3623.1 331.3,3641.2 339.1,3647.5 354.8,3647.5 356.3,3629.3 372.0,3629.3 379.8,3627.1 381.4,3610.5 393.9,3608.3 397.1,3608.3 398.6,3631.2 405.8,3631.2 407.4,3642.8 415.9,3641.2 431.5,3639.7 447.2,3640.6 462.9,3637.5 464.4,3642.8 478.5,3642.8 481.6,3650.6 495.7,3647.5 506.7,3647.5 508.3,3642.8 514.5,3642.8 516.1,3637.5 522.4,3637.5 523.9,3631.2 531.8,3628.7 539.6,3627.1 541.2,3621.8 545.9,3620.9" fill="none" stroke="#aeeeee" stroke-width="2.2" stroke-linejoin="round"/><polyline points="106.9,3551.0 117.9,3551.0 119.5,3569.2 126.4,3569.2 127.9,3578.6 135.1,3578.6 136.7,3605.2 143.9,3605.2 145.5,3620.9 153.3,3620.9 154.9,3632.5 169.6,3632.5 171.2,3635.6 179.0,3635.6 180.6,3623.1 186.8,3623.1 188.4,3621.8 194.7,3621.8 196.2,3627.1 204.1,3627.1 205.6,3639.7 212.8,3639.7 214.4,3655.3 222.2,3655.3 223.8,3663.2 238.5,3663.2 240.1,3667.9 246.3,3667.9 247.9,3663.2 254.2,3663.2 255.7,3655.3 262.0,3655.3 263.6,3645.9 271.4,3645.9 273.0,3620.9 280.8,3620.9 282.4,3598.9 288.6,3598.9 290.2,3584.8 297.4,3584.8 299.0,3578.6 305.9,3578.6 307.4,3562.3 314.3,3562.3 315.9,3544.1 325.0,3544.1 325.0,3544.1 331.3,3544.7 339.1,3545.7 340.7,3563.5 347.6,3563.5 349.1,3591.7 356.3,3591.7 357.9,3598.0 365.1,3598.0 366.7,3591.1 372.6,3590.5 374.5,3565.1 381.4,3565.1 383.0,3536.3 390.2,3536.3 391.7,3511.2 398.6,3511.2 400.2,3484.6 407.1,3484.6 408.7,3474.3 415.9,3474.3 417.4,3470.5 433.1,3470.5 434.7,3505.9 439.4,3505.9 440.9,3513.4 448.8,3515.3 456.0,3515.3 457.5,3512.8 464.4,3512.8 466.0,3500.3 472.3,3500.3 473.8,3494.9 481.0,3494.9 482.6,3479.3 489.5,3479.3 491.0,3481.5 497.3,3481.5 498.9,3500.3 506.1,3500.3 507.7,3566.0 514.5,3566.0 516.1,3580.1 523.9,3580.1 525.5,3578.0 531.8,3578.0 533.3,3576.1 540.5,3576.1 542.1,3596.8 545.9,3596.8" fill="none" stroke="#00bfff" stroke-width="2.4" stroke-linejoin="round"/><polyline points="106.9,3618.4 158.6,3618.4 160.2,3620.9 166.5,3620.9 168.0,3625.6 175.9,3625.6 177.4,3635.0 182.1,3635.0 184.6,3641.9 191.5,3641.9 193.1,3650.6 200.9,3650.6 202.5,3656.9 209.7,3657.5 216.6,3658.5 219.1,3663.8 226.0,3663.8 227.6,3662.5 234.8,3662.5 236.3,3657.5 243.2,3657.5 244.8,3652.2 251.0,3652.2 252.6,3650.6 260.4,3650.6 262.0,3644.4 266.7,3644.4 268.3,3641.2 273.0,3641.2 274.5,3630.3 280.8,3630.3 282.4,3619.3 288.0,3619.3 289.6,3611.5 294.9,3611.5 296.5,3600.5 302.7,3600.5 304.3,3589.5 311.2,3588.0 320.0,3587.4 325.0,3587.4 325.0,3587.4 328.1,3575.4 334.4,3575.4 336.0,3583.3 342.2,3583.3 343.8,3591.1 348.5,3594.2 353.2,3605.2 370.4,3606.8 384.5,3606.8 387.7,3597.4 411.2,3595.8 412.7,3588.0 428.4,3587.4 430.0,3576.1 445.6,3575.4 453.5,3569.2 461.3,3558.2 477.9,3557.6 479.5,3547.3 494.2,3545.7 495.7,3536.3 509.8,3535.3 519.2,3534.7 520.8,3524.7 528.6,3524.7 530.2,3516.5 538.0,3516.5 539.6,3509.7 545.9,3509.7" fill="none" stroke="#4f6b93" stroke-width="2.2" stroke-linejoin="round"/><polyline points="106.9,3491.5 113.2,3491.5 114.8,3475.8 122.0,3475.8 123.5,3459.5 130.4,3459.5 132.0,3445.4 138.9,3445.4 140.5,3428.8 147.0,3428.8 148.6,3423.5 172.7,3423.5 174.3,3438.2 182.1,3438.2 183.7,3454.8 191.5,3454.8 193.1,3471.4 200.3,3471.4 201.9,3510.6 208.8,3510.6 210.3,3551.3 216.6,3551.3 218.2,3583.3 226.0,3584.8 232.3,3587.4 238.5,3589.5 243.2,3572.3 250.4,3572.3 252.0,3537.9 258.3,3537.9 259.8,3517.5 266.7,3517.5 268.3,3485.5 274.5,3485.5 276.1,3449.5 283.0,3450.1 291.8,3451.7 293.3,3466.7 301.2,3466.7 307.4,3465.8 316.8,3467.4 318.4,3478.3 325.0,3478.3 325.0,3477.7 327.5,3489.3 334.4,3489.3 336.0,3500.3 343.2,3500.3 344.4,3536.3 351.6,3536.3 353.2,3566.7 358.8,3566.7 361.0,3596.8 368.9,3595.8 376.7,3594.9 378.3,3607.4 386.1,3607.4 387.7,3618.4 394.6,3618.4 396.1,3585.5 401.8,3585.5 404.0,3608.3 411.2,3608.3 412.7,3595.8 419.0,3595.8 420.6,3554.1 427.8,3554.1 429.3,3559.8 442.5,3559.8 444.1,3579.2 450.3,3579.2 451.9,3584.8 459.1,3584.8 460.7,3597.4 467.6,3597.4 469.1,3600.5 477.0,3600.5 478.5,3623.1 484.8,3623.1 486.3,3668.8 493.6,3668.8 495.1,3691.4 502.0,3691.4 503.6,3663.2 509.8,3663.2 511.4,3656.3 519.2,3656.3 520.8,3644.4 527.1,3644.4 528.6,3635.9 534.9,3635.9 536.5,3640.6 542.7,3640.6 545.9,3647.5" fill="none" stroke="#6495ed" stroke-width="2.2" stroke-linejoin="round"/><polyline points="106.9,3613.0 119.5,3613.0 121.0,3609.3 128.9,3609.3 130.4,3616.2 138.3,3616.2 139.8,3623.1 153.3,3623.1 155.5,3681.3 163.3,3681.3 164.9,3675.7 172.1,3675.7 173.7,3656.3 180.6,3656.3 182.1,3619.3 190.0,3617.7 191.5,3615.5 197.8,3615.5 199.4,3603.6 207.2,3603.6 208.8,3598.9 216.6,3598.9 222.9,3601.1 224.4,3605.2 232.3,3605.2 233.8,3599.9 241.0,3599.9 242.6,3581.7 247.9,3581.7 249.5,3603.6 265.1,3603.6 266.7,3618.7 272.4,3618.7 274.5,3645.9 280.8,3645.9 282.4,3672.6 291.8,3672.6 293.3,3677.3 299.6,3677.3 301.2,3670.1 307.4,3670.1 309.0,3660.7 316.2,3660.7 317.5,3696.1 324.7,3696.1 325.0,3671.0 332.8,3671.0 334.4,3704.5 341.3,3704.5 342.9,3696.1 350.1,3696.1 351.6,3733.7 358.8,3733.7 360.4,3728.3 367.3,3728.3 368.9,3713.9 375.1,3713.9 376.7,3673.2 383.9,3673.2 385.5,3645.0 392.4,3645.0 393.9,3647.5 400.2,3647.5 401.8,3643.7 409.6,3643.7 411.2,3659.4 419.0,3659.4 420.6,3656.3 426.8,3656.3 428.4,3679.5 434.7,3679.5 436.2,3688.2 441.5,3688.2 443.1,3671.9 449.7,3671.9 451.3,3681.3 458.2,3681.3 459.7,3684.5 466.0,3684.5 467.6,3680.4 475.4,3680.4 477.0,3677.3 483.2,3677.3 484.8,3702.3 544.3,3702.3" fill="none" stroke="#4a6a96" stroke-width="3.2" stroke-linejoin="round"/><polyline points="730.6,3571.2 733.2,3572.9 736.6,3569.6 741.6,3567.9 746.5,3571.2 751.5,3572.9 758.2,3569.6 763.2,3572.9 766.5,3582.9 779.8,3582.9 789.8,3581.2 796.4,3576.2 803.1,3574.6 808.1,3567.9 813.0,3566.2 819.7,3559.6 826.3,3551.3 833.0,3554.6 839.6,3556.3 846.3,3546.3 851.3,3536.3 856.3,3528.0 859.6,3524.7 866.2,3526.3 869.6,3531.3 876.2,3529.7 881.2,3531.3 886.2,3539.6 891.2,3549.6 896.2,3554.6 901.2,3559.6 906.1,3576.2 912.8,3586.2 919.4,3589.5 926.1,3599.5 932.7,3619.4 936.1,3626.1 939.4,3614.5 940.0,3612.8 943.3,3606.1 948.3,3601.2 953.3,3602.8 956.6,3612.8 963.3,3611.1 969.9,3612.8 976.6,3616.1 981.6,3622.8 986.5,3622.8 993.2,3621.1 999.8,3616.1 1006.5,3619.4 1014.8,3621.1 1019.8,3627.7 1024.8,3622.8 1028.1,3616.1 1034.8,3609.5 1039.7,3611.1 1046.4,3609.5 1053.0,3607.8 1058.0,3606.1 1064.7,3604.5 1073.0,3606.1 1081.3,3606.1 1089.6,3604.5 1094.6,3599.5 1099.6,3589.5 1104.6,3579.5 1109.6,3572.9 1114.6,3557.9 1117.9,3543.0 1122.9,3531.3 1127.9,3529.7 1132.8,3539.6 1139.5,3556.3 1146.1,3569.6 1152.8,3579.5 1159.4,3589.5 1164.4,3601.2 1169.4,3602.1" fill="none" stroke="#aeeeee" stroke-width="2.2" stroke-linejoin="round"/><polyline points="730.6,3499.1 733.2,3526.3 736.6,3528.0 738.2,3536.3 739.9,3526.3 742.6,3536.3 745.9,3546.3 748.2,3536.3 751.5,3526.3 753.9,3514.7 756.5,3518.0 761.5,3514.7 766.5,3513.0 773.1,3511.4 779.8,3511.4 793.1,3511.4 796.4,3504.7 798.1,3487.1 804.7,3485.8 808.1,3496.4 811.4,3508.1 814.7,3509.7 818.0,3516.4 821.4,3511.4 824.7,3516.4 828.0,3524.7 831.3,3536.3 833.0,3549.6 836.3,3539.6 839.6,3523.0 843.0,3516.4 846.3,3518.0 849.6,3519.7 852.9,3514.7 856.3,3516.4 859.6,3511.4 862.9,3503.1 866.2,3496.4 869.6,3489.8 872.9,3478.1 876.2,3464.8 879.5,3466.5 882.9,3473.1 886.2,3479.8 889.5,3478.1 892.8,3476.5 896.2,3479.8 899.5,3481.5 902.8,3493.1 907.8,3489.8 911.1,3481.5 914.5,3479.8 917.8,3484.8 921.1,3481.5 926.1,3474.8 929.4,3469.8 932.7,3471.5 936.1,3476.5 939.4,3479.8 940.0,3478.1 943.3,3493.1 946.6,3491.4 950.0,3493.1 955.0,3494.8 958.3,3493.1 961.6,3483.1 964.9,3476.5 969.9,3478.1 973.2,3473.1 976.6,3469.8 979.9,3466.5 983.2,3461.5 986.5,3449.9 989.9,3458.2 994.9,3459.8 998.2,3458.2 1001.5,3448.2 1004.8,3443.2 1008.2,3441.6 1010.5,3424.9 1013.1,3431.6 1016.5,3439.9 1019.8,3449.9 1023.1,3458.2 1028.1,3459.8 1031.4,3461.5 1034.8,3446.5 1038.1,3454.9 1041.4,3449.9 1046.4,3441.6 1051.4,3446.5 1054.7,3453.2 1058.0,3461.5 1063.0,3459.8 1068.0,3454.9 1073.0,3453.2 1076.3,3448.2 1081.3,3451.5 1086.3,3448.2 1089.6,3451.5 1096.3,3451.5 1099.6,3454.9 1102.9,3463.2 1106.2,3471.5 1109.6,3479.8 1114.6,3491.4 1117.9,3516.4 1121.2,3536.3 1126.2,3539.6 1129.5,3559.6 1132.8,3546.3 1136.2,3536.3 1139.5,3552.9 1142.8,3554.6 1147.8,3552.9 1152.8,3556.3 1159.4,3561.3 1162.8,3566.2 1169.4,3569.6" fill="none" stroke="#00bfff" stroke-width="2.4" stroke-linejoin="round"/><polyline points="730.6,3602.1 736.6,3602.8 743.2,3604.5 751.5,3606.1 759.8,3607.8 768.2,3606.1 771.5,3596.2 774.8,3594.5 778.1,3599.5 781.5,3609.5 786.4,3622.8 791.4,3632.7 796.4,3626.1 801.4,3626.1 804.7,3629.4 809.7,3636.1 816.4,3632.7 823.0,3619.4 829.7,3616.1 836.3,3619.4 843.0,3616.1 849.6,3609.5 856.3,3607.8 862.9,3612.8 869.6,3609.5 876.2,3612.8 882.9,3609.5 889.5,3607.8 896.2,3601.2 901.2,3604.5 906.1,3609.5 912.8,3606.1 917.8,3601.2 922.8,3612.8 929.4,3616.1 936.1,3621.1 940.1,3624.4 940.0,3624.4 946.6,3627.7 953.3,3629.4 958.3,3626.1 964.9,3631.1 971.6,3631.1 978.2,3634.4 984.9,3634.4 991.5,3637.7 998.2,3637.7 1001.5,3642.7 1006.5,3647.7 1011.5,3654.3 1018.1,3652.7 1024.8,3651.0 1033.1,3654.3 1039.7,3657.7 1046.4,3656.0 1053.0,3657.7 1059.7,3659.3 1066.3,3657.7 1073.0,3647.7 1081.3,3644.4 1088.0,3641.0 1094.6,3637.7 1099.6,3629.4 1104.6,3614.5 1107.9,3599.5 1112.9,3599.5 1117.9,3597.8 1122.9,3596.2 1127.9,3612.8 1132.8,3626.1 1137.8,3641.0 1142.8,3651.0 1147.8,3647.7 1154.5,3647.7 1157.8,3602.8 1161.1,3632.7 1164.4,3636.1 1169.4,3637.7" fill="none" stroke="#4f6b93" stroke-width="2.2" stroke-linejoin="round"/><polyline points="730.6,3637.7 733.2,3637.7 736.6,3646.0 739.9,3662.7 743.2,3676.0 748.2,3682.6 753.2,3689.3 758.2,3690.9 763.2,3685.9 768.2,3679.3 773.1,3689.3 778.1,3694.2 786.4,3694.2 789.8,3666.0 793.1,3647.7 799.7,3646.0 804.7,3636.1 808.1,3632.7 813.0,3639.4 818.0,3629.4 823.0,3612.8 826.3,3599.5 829.7,3592.8 833.0,3586.2 836.3,3572.9 839.6,3556.3 843.0,3546.3 846.3,3534.7 851.3,3538.0 856.3,3546.3 859.6,3549.6 862.9,3562.9 866.2,3559.6 869.6,3566.2 872.9,3571.2 876.2,3566.2 879.5,3566.2 882.9,3548.0 884.5,3526.3 886.2,3486.4 889.5,3506.4 892.8,3549.6 896.2,3599.5 898.8,3639.4 902.8,3649.4 907.8,3656.0 910.1,3632.7 912.8,3636.1 916.1,3646.0 919.4,3649.4 922.8,3666.0 926.1,3676.0 929.4,3685.9 932.7,3695.9 936.1,3702.6 939.4,3719.2 940.0,3719.2 945.0,3722.5 953.3,3729.2 958.3,3705.9 961.6,3692.6 964.9,3679.3 968.3,3669.3 973.2,3646.0 978.2,3629.4 981.6,3609.5 984.9,3581.2 988.2,3599.5 989.9,3616.1 993.2,3602.8 998.2,3586.2 1001.5,3572.9 1004.8,3576.2 1009.8,3581.2 1014.8,3586.2 1018.1,3596.2 1021.5,3602.8 1023.1,3591.2 1026.4,3601.2 1029.8,3592.8 1034.8,3579.5 1038.1,3556.3 1041.4,3539.6 1044.7,3496.4 1049.7,3476.5 1054.7,3496.4 1059.7,3473.1 1068.0,3473.1 1071.3,3499.7 1074.7,3514.7 1078.0,3516.4 1083.0,3539.6 1086.3,3572.9 1091.3,3599.5 1094.6,3587.9 1097.9,3596.2 1102.9,3612.8 1106.2,3622.8 1109.6,3602.8 1112.9,3602.8 1116.2,3579.5 1121.2,3556.3 1126.2,3533.0 1132.8,3528.0 1137.8,3526.3 1142.8,3528.0 1147.8,3531.3 1152.8,3536.3 1159.4,3552.9 1162.8,3559.6 1169.4,3579.5" fill="none" stroke="#6495ed" stroke-width="2.2" stroke-linejoin="round"/><polyline points="730.6,3584.5 733.2,3586.2 736.6,3602.8 739.9,3604.5 743.2,3616.1 746.5,3611.1 751.5,3616.1 756.5,3619.4 761.5,3636.1 773.1,3636.1 776.5,3599.5 779.8,3584.5 783.1,3572.9 786.4,3579.5 791.4,3581.2 794.8,3592.8 799.7,3606.1 803.1,3619.4 806.4,3627.7 811.4,3632.7 814.7,3639.4 819.7,3656.0 826.3,3649.4 831.3,3651.0 836.3,3646.0 843.0,3639.4 846.3,3641.0 851.3,3646.0 856.3,3654.3 862.9,3656.0 869.6,3661.0 876.2,3662.7 882.9,3657.7 889.5,3661.0 896.2,3664.3 902.8,3669.3 907.8,3659.3 912.8,3656.0 919.4,3657.7 926.1,3662.7 929.4,3679.3 932.7,3685.9 936.1,3697.6 940.1,3692.6 940.0,3692.6 943.3,3692.6 946.6,3672.6 951.6,3671.0 955.0,3679.3 958.3,3674.3 963.3,3682.6 964.9,3672.6 968.3,3662.7 971.6,3647.7 976.6,3646.0 979.9,3652.7 983.2,3674.3 986.5,3666.0 991.5,3667.6 994.9,3676.0 998.2,3685.9 1001.5,3684.3 1006.5,3689.3 1011.5,3689.3 1016.5,3692.6 1019.8,3697.6 1023.1,3704.2 1028.1,3702.6 1033.1,3702.6 1038.1,3704.2 1043.1,3707.5 1049.7,3714.2 1054.7,3715.9 1059.7,3710.9 1066.3,3710.9 1071.3,3714.2 1076.3,3717.5 1079.6,3722.5 1084.6,3727.5 1089.6,3730.8 1094.6,3732.5 1097.9,3727.5 1102.9,3720.8 1106.2,3724.2 1111.2,3720.8 1126.2,3720.8 1167.7,3720.8" fill="none" stroke="#4a6a96" stroke-width="3.2" stroke-linejoin="round"/><text transform="translate(81.5,3433.02) scale(0.69,1)" text-anchor="end" font-family="Liberation Sans" font-size="22" fill="#262626">1000</text><text transform="translate(81.5,3492.42) scale(0.69,1)" text-anchor="end" font-family="Liberation Sans" font-size="22" fill="#262626">750</text><text transform="translate(81.5,3551.92) scale(0.69,1)" text-anchor="end" font-family="Liberation Sans" font-size="22" fill="#262626">500</text><text transform="translate(81.5,3611.32) scale(0.69,1)" text-anchor="end" font-family="Liberation Sans" font-size="22" fill="#262626">250</text><text transform="translate(81.5,3670.82) scale(0.69,1)" text-anchor="end" font-family="Liberation Sans" font-size="22" fill="#262626">0</text><text transform="translate(81.5,3730.2200000000003) scale(0.69,1)" text-anchor="end" font-family="Liberation Sans" font-size="22" fill="#262626">−250</text><text transform="translate(705.3,3447.2200000000003) scale(0.69,1)" text-anchor="end" font-family="Liberation Sans" font-size="22" fill="#262626">1500</text><text transform="translate(705.3,3537.32) scale(0.69,1)" text-anchor="end" font-family="Liberation Sans" font-size="22" fill="#262626">1000</text><text transform="translate(705.3,3626.52) scale(0.69,1)" text-anchor="end" font-family="Liberation Sans" font-size="22" fill="#262626">500</text><text transform="translate(705.3,3715.32) scale(0.69,1)" text-anchor="end" font-family="Liberation Sans" font-size="22" fill="#262626">0</text><text transform="translate(137.0,3765) scale(0.72,1) rotate(-45)" text-anchor="end" font-family="Liberation Sans" font-size="20" fill="#262626">01–28</text><text transform="translate(764.0,3765) scale(0.72,1) rotate(-45)" text-anchor="end" font-family="Liberation Sans" font-size="20" fill="#262626">01–28</text><text transform="translate(190.4,3765) scale(0.72,1) rotate(-45)" text-anchor="end" font-family="Liberation Sans" font-size="20" fill="#262626">03–12</text><text transform="translate(817.4,3765) scale(0.72,1) rotate(-45)" text-anchor="end" font-family="Liberation Sans" font-size="20" fill="#262626">03–12</text><text transform="translate(243.8,3765) scale(0.72,1) rotate(-45)" text-anchor="end" font-family="Liberation Sans" font-size="20" fill="#262626">04–25</text><text transform="translate(870.8,3765) scale(0.72,1) rotate(-45)" text-anchor="end" font-family="Liberation Sans" font-size="20" fill="#262626">04–25</text><text transform="translate(297.2,3765) scale(0.72,1) rotate(-45)" text-anchor="end" font-family="Liberation Sans" font-size="20" fill="#262626">06–09</text><text transform="translate(924.2,3765) scale(0.72,1) rotate(-45)" text-anchor="end" font-family="Liberation Sans" font-size="20" fill="#262626">06–09</text><text transform="translate(350.6,3765) scale(0.72,1) rotate(-45)" text-anchor="end" font-family="Liberation Sans" font-size="20" fill="#262626">07–24</text><text transform="translate(977.6,3765) scale(0.72,1) rotate(-45)" text-anchor="end" font-family="Liberation Sans" font-size="20" fill="#262626">07–24</text><text transform="translate(404.0,3765) scale(0.72,1) rotate(-45)" text-anchor="end" font-family="Liberation Sans" font-size="20" fill="#262626">09–06</text><text transform="translate(1031.0,3765) scale(0.72,1) rotate(-45)" text-anchor="end" font-family="Liberation Sans" font-size="20" fill="#262626">09–06</text><text transform="translate(457.4,3765) scale(0.72,1) rotate(-45)" text-anchor="end" font-family="Liberation Sans" font-size="20" fill="#262626">10–22</text><text transform="translate(1084.4,3765) scale(0.72,1) rotate(-45)" text-anchor="end" font-family="Liberation Sans" font-size="20" fill="#262626">10–22</text><text transform="translate(510.8,3765) scale(0.72,1) rotate(-45)" text-anchor="end" font-family="Liberation Sans" font-size="20" fill="#262626">12–05</text><text transform="translate(1137.8,3765) scale(0.72,1) rotate(-45)" text-anchor="end" font-family="Liberation Sans" font-size="20" fill="#262626">12–05</text></svg><div style="position:absolute;left:8px;top:3881px;width:1245px;height:37px;background:linear-gradient(to bottom,#f3f4f7 0%,#d3d9e3 25%,#a7b5ca 50%,#7890b0 75%,#4a6896 100%)"></div><div style="position:absolute;left:8px;top:3917px;width:1245px;height:1px;background:#4a6a9a"></div><div style="position:absolute;left:162px;top:3918px;width:1px;height:233px;background:#4a6a9a"></div><div style="position:absolute;left:8px;top:4049.5px;width:1245px;height:2px;background:#2a4670"></div><div style="position:absolute;left:8px;top:3918px;width:154px;height:132px;line-height:132px;text-align:center;font-weight:bold;-webkit-text-stroke:0.35px currentColor;font-size:27px;color:#4a6896;line-height:26.5px;padding-top:12px;">免<br>责<br>声<br>明</div><div style="position:absolute;left:8px;top:4051px;width:154px;height:100px;line-height:100px;text-align:center;font-weight:bold;-webkit-text-stroke:0.35px currentColor;font-size:27px;color:#4a6896;line-height:27px;padding-top:8px;">分<br>析<br>师</div><div style="position:absolute;left:164px;top:3920px;width:1088px;font-size:25.2px;line-height:32.7px;white-space:nowrap;text-indent:47px;">本报告中的信息均来源于公开资料，我公司对这些信息的准确性和完整性不作任何保证。报告<br>中的内容和意见仅供参考，并不构成对所述品种买卖的出价或征价。我公司及其雇员对使用本报告<br>及其内容所引发的任何直接或间接损失概不负责。本报告仅向特定客户传送，版权归冠通期货所<br>有。未经我公司书面许可，任何机构和个人均不得以任何形式翻版、复制、引用或转载。</div><div style="position:absolute;left:216px;top:4084px;width:100px;height:34px;line-height:34px;font-size:25px;">王 静</div><div style="position:absolute;left:362px;top:4084px;width:600px;height:34px;line-height:34px;font-size:25px;">执业资格证号F0235424/Z0000771</div><div style="position:absolute;left:6px;top:9px;width:1250px;height:4144px;border-left:2px solid #4a6a9a;border-right:3px solid #4a6a9a;border-top:2px solid #4a6a9a;border-bottom:2px solid #4a6a9a;box-sizing:border-box"></div>
</body></html>
